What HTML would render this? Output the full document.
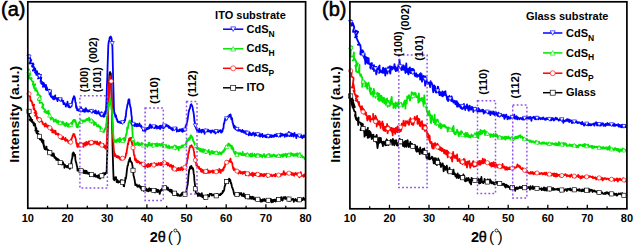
<!DOCTYPE html>
<html><head><meta charset="utf-8"><style>
html,body{margin:0;padding:0;background:#fff;width:634px;height:246px;overflow:hidden}
svg{display:block;font-family:"Liberation Sans",sans-serif}
</style></head><body>
<svg width="634" height="246" viewBox="0 0 634 246">
<path d="M29.9 110.1 L28.7 111.3 L28.5 111.4 L28.9 112.2 L29.1 114.9 L29.2 115.8 L31.0 118.2 L30.4 120.8 L29.5 119.5 L32.3 120.0 L31.9 121.9 L32.7 122.4 L32.8 122.8 L33.6 122.3 L33.4 123.8 L34.9 125.2 L34.5 123.5 L34.8 125.1 L35.2 124.1 L33.8 125.5 L35.4 125.9 L35.6 128.6 L36.4 128.3 L35.3 130.7 L38.4 131.3 L37.3 131.7 L36.5 129.8 L36.4 132.7 L38.0 134.0 L38.6 134.9 L38.4 133.8 L39.4 135.6 L39.1 135.8 L40.5 136.7 L39.8 139.3 L40.7 137.9 L41.9 139.3 L43.7 140.9 L40.9 139.9 L41.8 141.0 L41.8 141.9 L43.5 142.4 L42.3 141.6 L43.2 143.6 L43.9 145.6 L43.5 143.0 L43.9 146.3 L44.6 146.0 L43.7 145.7 L44.6 149.1 L45.7 148.2 L46.5 146.6 L46.6 148.5 L45.8 149.5 L47.1 149.2 L48.3 150.6 L48.5 150.3 L48.4 151.6 L48.2 152.9 L49.5 151.1 L49.1 152.5 L49.1 152.3 L49.7 153.3 L51.4 152.2 L51.0 153.1 L51.9 153.8 L51.3 155.3 L52.5 155.8 L52.0 153.4 L52.6 154.3 L54.3 156.1 L53.7 153.5 L53.5 155.5 L54.0 156.1 L54.6 157.9 L55.3 157.5 L54.9 156.8 L54.7 157.1 L55.7 157.6 L56.2 159.9 L56.5 158.2 L57.4 158.7 L57.3 159.8 L57.9 159.7 L57.5 160.0 L58.6 159.4 L59.3 160.9 L59.2 160.9 L59.4 163.0 L59.7 162.8 L60.5 162.5 L60.1 163.4 L60.7 162.6 L61.2 164.3 L61.6 163.4 L61.6 164.2 L62.2 162.5 L62.4 164.4 L62.8 162.5 L63.1 162.3 L63.3 164.4 L63.8 164.0 L64.4 165.4 L64.4 167.8 L64.9 164.7 L65.3 165.2 L65.5 166.2 L66.0 166.7 L66.2 166.1 L66.8 166.2 L67.2 167.4 L67.5 167.3 L67.7 165.8 L68.1 167.0 L68.4 167.3 L68.8 166.3 L69.1 167.9 L69.4 166.8 L69.8 168.9 L70.2 167.7 L70.5 166.4 L70.9 164.5 L71.2 163.9 L71.6 160.5 L71.9 159.0 L72.3 158.1 L72.6 153.5 L73.0 156.0 L73.3 152.5 L73.7 154.4 L74.0 153.2 L74.4 155.6 L74.7 155.6 L75.1 154.7 L75.4 159.6 L75.8 161.9 L76.1 162.3 L76.5 164.0 L76.8 165.8 L77.2 166.7 L77.5 170.7 L77.9 169.1 L78.2 169.8 L78.6 169.1 L78.9 169.5 L79.3 168.9 L79.6 171.7 L80.0 170.4 L80.3 171.7 L80.7 170.8 L81.0 170.1 L81.4 170.6 L81.7 170.4 L82.1 171.1 L82.4 170.8 L82.8 170.9 L83.1 169.9 L83.5 170.6 L83.8 173.2 L84.2 170.9 L84.5 170.6 L84.9 172.1 L85.2 173.4 L85.6 170.6 L85.9 172.0 L86.3 171.8 L86.6 170.8 L87.0 173.5 L87.3 172.9 L87.7 173.2 L88.0 172.5 L88.4 173.9 L88.7 173.1 L89.1 173.7 L89.4 172.9 L89.8 172.9 L90.1 175.7 L90.5 173.9 L90.8 174.8 L91.2 174.5 L91.5 174.2 L91.9 174.2 L92.2 175.5 L92.6 174.6 L92.9 174.8 L93.3 175.1 L93.6 176.4 L94.0 175.9 L94.3 175.7 L94.7 174.8 L95.0 174.1 L95.4 176.6 L95.7 176.7 L96.1 175.6 L96.4 176.4 L96.8 176.7 L97.1 176.9 L97.5 177.0 L97.8 175.7 L98.2 177.8 L98.5 175.1 L98.9 177.3 L99.2 177.0 L99.6 177.5 L99.9 178.6 L100.3 178.1 L100.6 175.2 L101.0 174.5 L101.3 176.9 L101.7 174.9 L102.0 175.7 L102.4 176.4 L102.7 173.7 L103.1 173.1 L103.4 175.3 L103.8 174.9 L104.1 174.5 L104.5 174.6 L104.8 173.5 L105.2 172.7 L105.5 174.0 L105.9 173.1 L106.2 172.4 L106.6 173.0 L106.9 161.9 L107.3 151.9 L107.6 135.5 L108.0 120.1 L108.3 104.0 L108.7 93.2 L109.0 83.4 L109.4 74.9 L109.7 72.9 L110.1 72.0 L110.4 74.3 L110.8 73.4 L111.1 81.4 L111.5 92.7 L111.8 105.0 L112.2 123.2 L112.5 143.9 L112.9 158.8 L113.2 169.3 L113.6 179.1 L113.9 178.7 L114.3 180.3 L114.6 179.4 L115.0 177.4 L115.3 179.2 L115.7 178.1 L116.0 177.1 L116.4 180.0 L116.7 182.1 L117.1 181.0 L117.4 180.0 L117.8 180.5 L118.1 182.7 L118.5 181.7 L118.8 181.5 L119.2 181.4 L119.5 181.4 L119.9 182.1 L120.2 181.8 L120.6 181.4 L120.9 180.1 L121.3 181.6 L121.6 180.4 L122.0 182.1 L122.3 180.3 L122.7 182.2 L123.0 183.0 L123.4 182.4 L123.7 186.1 L124.1 186.3 L124.4 183.1 L124.8 183.1 L125.1 181.5 L125.5 177.4 L125.8 178.9 L126.2 176.7 L126.5 174.1 L126.9 170.1 L127.2 168.1 L127.6 165.6 L127.9 165.6 L128.3 163.3 L128.6 161.6 L129.0 161.7 L129.3 159.4 L129.7 159.4 L130.0 158.0 L130.4 161.2 L130.7 161.0 L131.1 161.7 L131.4 162.3 L131.8 162.5 L132.1 163.9 L132.5 166.1 L132.8 168.7 L133.2 171.5 L133.5 175.5 L133.9 176.6 L134.2 178.1 L134.6 179.7 L134.9 181.8 L135.3 185.1 L135.6 184.8 L136.0 185.2 L136.3 185.0 L136.7 184.4 L137.0 185.6 L137.4 186.7 L137.7 185.6 L138.1 185.9 L138.4 186.1 L138.8 186.5 L139.1 185.1 L139.5 186.5 L139.8 186.1 L140.2 187.9 L140.5 186.5 L140.9 188.0 L141.2 189.1 L141.6 187.5 L141.9 187.4 L142.3 188.3 L142.6 188.3 L143.0 187.5 L143.3 189.1 L143.7 190.8 L144.0 188.8 L144.4 189.0 L144.7 188.4 L145.1 189.8 L145.4 188.3 L145.8 188.4 L146.1 190.7 L146.5 188.6 L146.8 190.5 L147.2 190.9 L147.5 189.7 L147.9 190.0 L148.2 191.4 L148.6 189.3 L148.9 188.9 L149.3 188.2 L149.6 189.5 L150.0 190.9 L150.3 190.5 L150.7 188.8 L151.0 188.9 L151.4 189.3 L151.7 190.2 L152.1 189.8 L152.4 190.3 L152.8 190.4 L153.1 190.0 L153.5 190.3 L153.8 190.6 L154.2 190.4 L154.5 191.1 L154.9 192.4 L155.2 191.3 L155.6 190.9 L155.9 189.3 L156.3 191.4 L156.6 189.3 L157.0 189.8 L157.3 192.1 L157.7 192.0 L158.0 191.3 L158.4 189.9 L158.7 191.2 L159.1 191.0 L159.4 192.4 L159.8 193.9 L160.1 192.0 L160.5 190.7 L160.8 190.0 L161.2 190.7 L161.5 190.3 L161.9 189.0 L162.2 189.9 L162.6 188.3 L162.9 190.1 L163.3 189.7 L163.6 189.4 L164.0 187.6 L164.3 188.2 L164.7 187.2 L165.0 186.6 L165.4 186.9 L165.7 186.3 L166.1 186.4 L166.4 188.8 L166.8 188.1 L167.1 188.8 L167.5 189.7 L167.8 187.5 L168.2 188.6 L168.5 189.8 L168.9 190.2 L169.2 189.8 L169.6 191.3 L169.9 190.8 L170.3 189.7 L170.6 190.2 L171.0 191.9 L171.3 191.8 L171.7 189.8 L172.0 193.0 L172.4 192.5 L172.7 193.4 L173.1 192.0 L173.4 192.2 L173.8 191.7 L174.1 195.2 L174.5 192.9 L174.8 194.7 L175.2 192.9 L175.5 193.8 L175.9 192.3 L176.2 193.7 L176.6 195.1 L176.9 193.3 L177.3 195.6 L177.6 195.2 L178.0 194.1 L178.3 194.8 L178.7 195.1 L179.0 195.7 L179.4 195.4 L179.7 195.4 L180.1 196.0 L180.4 195.0 L180.8 194.4 L181.1 195.1 L181.5 195.6 L181.8 193.1 L182.2 194.1 L182.5 193.1 L182.9 192.5 L183.2 194.2 L183.6 193.4 L183.9 195.6 L184.3 194.0 L184.6 195.2 L185.0 194.1 L185.3 193.0 L185.7 193.7 L186.0 192.5 L186.4 191.5 L186.7 189.2 L187.1 186.6 L187.4 185.9 L187.8 183.4 L188.1 180.3 L188.5 174.7 L188.8 173.2 L189.2 169.6 L189.5 169.6 L189.9 167.7 L190.2 166.6 L190.6 167.8 L190.9 168.5 L191.3 165.9 L191.6 166.6 L192.0 167.3 L192.3 167.3 L192.7 169.0 L193.0 168.3 L193.4 170.5 L193.7 173.7 L194.1 175.0 L194.4 180.4 L194.8 183.5 L195.1 185.8 L195.5 187.5 L195.8 193.0 L196.2 192.5 L196.5 193.3 L196.9 193.4 L197.2 193.9 L197.6 194.1 L197.9 196.1 L198.3 193.7 L198.6 193.3 L199.0 193.9 L199.3 193.7 L199.7 195.7 L200.0 195.8 L200.4 194.4 L200.7 194.1 L201.1 195.1 L201.4 196.7 L201.8 193.2 L202.1 196.2 L202.5 195.1 L202.8 197.3 L203.2 195.7 L203.5 196.7 L203.9 196.0 L204.2 196.7 L204.6 199.1 L204.9 198.6 L205.3 197.3 L205.6 196.6 L206.0 195.5 L206.3 196.5 L206.7 196.6 L207.0 196.3 L207.4 196.1 L207.7 194.9 L208.1 195.6 L208.4 195.4 L208.8 196.3 L209.1 196.5 L209.5 194.6 L209.8 193.8 L210.2 194.3 L210.5 193.9 L210.9 193.9 L211.2 194.7 L211.6 193.9 L211.9 195.5 L212.3 195.0 L212.6 195.4 L213.0 195.1 L213.3 194.8 L213.7 194.7 L214.0 195.5 L214.4 195.3 L214.7 196.1 L215.1 196.0 L215.4 194.8 L215.8 195.9 L216.1 194.7 L216.5 195.2 L216.8 195.5 L217.2 193.9 L217.5 195.7 L217.9 195.7 L218.2 195.4 L218.6 195.1 L218.9 195.1 L219.3 194.5 L219.6 195.0 L220.0 194.7 L220.3 195.0 L220.7 193.6 L221.0 194.5 L221.4 194.0 L221.7 193.5 L222.1 192.9 L222.4 193.2 L222.8 190.8 L223.1 192.0 L223.5 191.3 L223.8 190.8 L224.2 189.9 L224.5 187.3 L224.9 185.9 L225.2 185.2 L225.6 183.8 L225.9 182.3 L226.3 180.4 L226.6 182.0 L227.0 182.5 L227.3 182.2 L227.7 181.4 L228.0 179.8 L228.4 181.8 L228.7 180.8 L229.1 178.6 L229.4 181.0 L229.8 179.3 L230.1 179.6 L230.5 181.1 L230.8 183.5 L231.2 183.0 L231.5 184.4 L231.9 186.5 L232.2 187.7 L232.6 188.0 L232.9 189.6 L233.3 190.2 L233.6 191.9 L234.0 194.2 L234.3 194.4 L234.7 194.3 L235.0 195.1 L235.4 193.7 L235.7 194.5 L236.1 195.2 L236.4 195.1 L236.8 195.5 L237.1 194.9 L237.5 194.3 L237.8 194.9 L238.2 193.7 L238.5 193.2 L238.9 195.1 L239.2 194.6 L239.6 194.9 L239.9 193.2 L240.3 194.4 L240.6 194.3 L241.0 194.1 L241.3 193.0 L241.7 194.8 L242.0 195.9 L242.4 195.6 L242.7 194.8 L243.1 195.4 L243.4 196.2 L243.8 193.3 L244.1 195.6 L244.5 196.3 L244.8 196.5 L245.2 197.5 L245.5 197.1 L245.9 196.5 L246.2 196.6 L246.6 197.1 L246.9 196.1 L247.3 196.6 L247.6 197.5 L248.0 198.5 L248.3 196.8 L248.7 197.0 L249.0 197.3 L249.4 198.4 L249.7 197.3 L250.1 198.7 L250.4 196.7 L250.8 197.5 L251.1 197.5 L251.5 198.5 L251.8 198.8 L252.2 196.7 L252.5 197.3 L252.9 198.5 L253.2 197.7 L253.6 197.1 L253.9 199.4 L254.3 199.0 L254.6 199.1 L255.0 198.4 L255.3 199.7 L255.7 198.7 L256.0 199.9 L256.4 198.3 L256.7 198.4 L257.1 199.3 L257.4 198.6 L257.8 199.8 L258.1 199.5 L258.5 198.6 L258.8 199.5 L259.2 199.2 L259.5 200.3 L259.9 199.1 L260.2 199.3 L260.6 200.8 L260.9 201.7 L261.3 201.6 L261.6 200.0 L262.0 200.2 L262.3 201.3 L262.7 200.0 L263.0 199.3 L263.4 200.3 L263.7 200.7 L264.1 199.6 L264.4 199.0 L264.8 199.2 L265.1 201.1 L265.5 199.8 L265.8 200.3 L266.2 200.6 L266.5 201.0 L266.9 200.1 L267.2 200.8 L267.6 199.6 L267.9 200.0 L268.3 199.5 L268.6 201.3 L269.0 200.3 L269.3 199.7 L269.7 200.0 L270.0 200.1 L270.4 200.8 L270.7 198.9 L271.1 199.3 L271.4 199.9 L271.8 202.3 L272.1 201.0 L272.5 200.0 L272.8 200.7 L273.2 201.8 L273.5 199.9 L273.9 199.7 L274.2 201.1 L274.6 200.4 L274.9 200.6 L275.3 199.5 L275.6 201.5 L276.0 201.3 L276.3 200.3 L276.7 200.3 L277.0 198.0 L277.4 200.2 L277.7 199.4 L278.1 199.9 L278.4 200.1 L278.8 199.1 L279.1 197.9 L279.5 199.6 L279.8 198.6 L280.2 198.9 L280.5 198.7 L280.9 198.8 L281.2 197.1 L281.6 200.1 L281.9 199.2 L282.3 199.9 L282.6 200.5 L283.0 198.8 L283.3 197.2 L283.7 197.9 L284.0 197.6 L284.4 198.2 L284.7 198.6 L285.1 196.8 L285.4 198.9 L285.8 197.3 L286.1 198.9 L286.5 198.6 L286.8 198.5 L287.2 198.8 L287.5 198.4 L287.9 198.4 L288.2 197.5 L288.6 199.0 L288.9 200.7 L289.3 200.8 L289.6 200.3 L290.0 199.8 L290.3 198.7 L290.7 200.6 L291.0 199.4 L291.4 199.4 L291.7 199.3 L292.1 199.6 L292.4 199.2 L292.8 199.6 L293.1 198.8 L293.5 199.4 L293.8 201.8 L294.2 199.8 L294.5 199.7 L294.9 200.4 L295.2 200.6 L295.6 199.0 L295.9 199.8 L296.3 200.7 L296.6 200.1 L297.0 200.0 L297.3 201.2 L297.7 199.3 L298.0 199.9 L298.4 199.4 L298.7 201.1 L299.1 198.1 L299.4 199.2 L299.8 199.3 L300.1 200.3 L300.5 200.2 L300.8 200.9 L301.2 198.4 L301.5 200.3 L301.9 199.4 L302.2 199.1 L302.6 200.1 L302.9 198.8 L303.3 197.8 L303.6 199.3 L304.0 198.3 L304.3 199.0 L304.7 199.8 L305.0 199.8" fill="none" stroke="#000000" stroke-width="1.80" stroke-linejoin="round"/>
<path d="M29.7 93.7 L29.5 93.0 L28.5 94.7 L29.7 96.4 L29.7 96.5 L30.3 97.0 L30.4 100.8 L31.4 100.6 L30.9 100.4 L32.4 102.7 L32.2 103.3 L32.1 102.9 L32.6 104.9 L32.7 105.6 L34.1 104.6 L33.5 107.6 L34.4 108.5 L34.1 109.2 L33.5 108.8 L36.0 111.3 L34.5 112.6 L36.5 113.7 L36.6 113.1 L35.1 115.8 L36.0 114.5 L36.8 116.3 L36.9 118.7 L36.9 117.2 L39.0 118.0 L38.4 120.2 L39.3 118.9 L39.0 119.4 L40.0 120.4 L39.4 121.7 L40.4 118.4 L41.3 120.3 L41.1 120.5 L41.1 120.7 L40.9 121.3 L42.3 121.7 L42.8 123.3 L42.6 122.3 L42.6 123.8 L44.0 124.4 L45.8 123.5 L44.0 124.7 L44.9 126.5 L45.2 125.2 L43.4 124.3 L45.7 125.1 L45.5 124.3 L47.3 125.8 L46.5 126.6 L46.5 124.9 L47.3 125.7 L47.9 127.4 L47.7 125.7 L48.4 126.6 L47.9 125.6 L49.0 126.2 L50.0 126.9 L51.0 130.2 L50.6 127.7 L50.7 128.0 L51.6 128.3 L51.8 129.0 L52.5 130.2 L52.5 130.1 L52.2 132.4 L52.8 130.8 L53.1 132.4 L53.5 131.5 L53.8 132.2 L53.7 130.3 L53.4 132.1 L54.4 132.5 L54.2 132.6 L55.5 130.8 L55.8 134.3 L55.5 133.2 L56.8 133.4 L57.2 133.9 L57.2 134.2 L58.2 135.1 L58.6 133.6 L57.8 134.2 L59.0 135.8 L59.1 135.9 L59.4 135.6 L59.9 135.6 L59.8 135.6 L60.2 136.7 L60.5 138.3 L60.8 136.1 L61.4 139.1 L61.4 138.6 L61.9 137.5 L62.6 139.1 L62.8 136.9 L63.2 136.9 L63.1 137.6 L63.7 138.8 L64.1 139.1 L64.6 139.1 L64.8 140.0 L65.4 137.9 L65.6 140.9 L66.0 139.1 L66.3 140.1 L66.7 140.6 L67.0 140.0 L67.4 140.0 L67.7 140.6 L68.1 141.8 L68.4 142.7 L68.8 142.8 L69.1 141.4 L69.5 141.8 L69.8 141.9 L70.2 143.3 L70.5 140.2 L70.9 143.2 L71.2 140.3 L71.6 138.5 L71.9 138.1 L72.3 137.3 L72.6 135.7 L73.0 135.6 L73.3 133.9 L73.7 134.2 L74.0 134.8 L74.4 134.3 L74.7 136.8 L75.1 136.4 L75.4 138.1 L75.8 138.8 L76.1 141.2 L76.5 143.8 L76.8 142.9 L77.2 146.3 L77.5 146.9 L77.9 146.7 L78.2 144.0 L78.6 146.0 L78.9 146.6 L79.3 145.0 L79.6 145.8 L80.0 143.0 L80.3 146.1 L80.7 144.6 L81.0 146.1 L81.4 143.2 L81.7 145.7 L82.1 144.6 L82.4 145.6 L82.8 143.7 L83.1 143.9 L83.5 146.8 L83.8 143.5 L84.2 143.5 L84.5 143.9 L84.9 143.0 L85.2 145.2 L85.6 145.6 L85.9 143.0 L86.3 141.8 L86.6 144.7 L87.0 144.6 L87.3 144.2 L87.7 144.4 L88.0 142.2 L88.4 142.8 L88.7 141.5 L89.1 141.3 L89.4 143.7 L89.8 141.9 L90.1 144.8 L90.5 142.6 L90.8 141.8 L91.2 143.3 L91.5 144.3 L91.9 143.0 L92.2 141.2 L92.6 142.8 L92.9 143.9 L93.3 141.9 L93.6 141.6 L94.0 143.5 L94.3 142.6 L94.7 141.3 L95.0 142.0 L95.4 141.7 L95.7 142.9 L96.1 142.8 L96.4 144.0 L96.8 143.7 L97.1 141.5 L97.5 143.6 L97.8 144.2 L98.2 143.9 L98.5 144.6 L98.9 143.1 L99.2 142.8 L99.6 144.8 L99.9 142.9 L100.3 142.0 L100.6 145.4 L101.0 143.9 L101.3 144.5 L101.7 143.7 L102.0 144.0 L102.4 144.4 L102.7 145.4 L103.1 146.4 L103.4 143.9 L103.8 147.2 L104.1 145.5 L104.5 145.9 L104.8 147.9 L105.2 147.2 L105.5 145.6 L105.9 149.0 L106.2 146.2 L106.6 146.2 L106.9 138.7 L107.3 132.5 L107.6 122.0 L108.0 114.8 L108.3 104.3 L108.7 97.2 L109.0 86.3 L109.4 80.1 L109.7 78.9 L110.1 76.0 L110.4 76.7 L110.8 81.7 L111.1 85.2 L111.5 94.1 L111.8 105.7 L112.2 114.8 L112.5 128.0 L112.9 135.9 L113.2 140.8 L113.6 146.9 L113.9 151.2 L114.3 153.0 L114.6 153.4 L115.0 156.4 L115.3 154.1 L115.7 155.9 L116.0 156.1 L116.4 156.4 L116.7 157.1 L117.1 155.8 L117.4 157.7 L117.8 157.1 L118.1 156.8 L118.5 156.3 L118.8 156.7 L119.2 158.3 L119.5 157.2 L119.9 158.4 L120.2 159.4 L120.6 159.4 L120.9 159.9 L121.3 158.0 L121.6 157.2 L122.0 159.3 L122.3 158.5 L122.7 159.3 L123.0 158.2 L123.4 159.3 L123.7 158.9 L124.1 158.8 L124.4 158.5 L124.8 158.4 L125.1 157.8 L125.5 156.4 L125.8 155.8 L126.2 152.9 L126.5 153.7 L126.9 149.8 L127.2 148.8 L127.6 145.6 L127.9 143.4 L128.3 144.2 L128.6 140.9 L129.0 138.9 L129.3 138.4 L129.7 138.2 L130.0 140.6 L130.4 138.7 L130.7 139.4 L131.1 137.7 L131.4 140.3 L131.8 141.9 L132.1 144.3 L132.5 143.1 L132.8 146.8 L133.2 149.1 L133.5 150.3 L133.9 153.9 L134.2 155.7 L134.6 155.3 L134.9 159.7 L135.3 160.3 L135.6 159.5 L136.0 158.9 L136.3 161.8 L136.7 160.8 L137.0 161.8 L137.4 162.4 L137.7 160.7 L138.1 162.2 L138.4 161.4 L138.8 161.8 L139.1 162.0 L139.5 162.3 L139.8 163.6 L140.2 162.8 L140.5 162.7 L140.9 162.7 L141.2 163.5 L141.6 162.5 L141.9 163.0 L142.3 163.6 L142.6 163.3 L143.0 163.9 L143.3 163.6 L143.7 166.3 L144.0 165.8 L144.4 165.1 L144.7 164.8 L145.1 167.1 L145.4 165.3 L145.8 164.9 L146.1 165.3 L146.5 165.3 L146.8 166.3 L147.2 165.0 L147.5 167.0 L147.9 164.2 L148.2 165.7 L148.6 164.0 L148.9 166.7 L149.3 164.7 L149.6 164.9 L150.0 165.9 L150.3 166.2 L150.7 163.9 L151.0 164.7 L151.4 163.7 L151.7 165.1 L152.1 164.9 L152.4 164.7 L152.8 164.4 L153.1 164.6 L153.5 164.3 L153.8 165.5 L154.2 166.4 L154.5 163.2 L154.9 164.9 L155.2 164.6 L155.6 165.4 L155.9 163.9 L156.3 164.6 L156.6 163.7 L157.0 165.3 L157.3 164.6 L157.7 164.3 L158.0 164.7 L158.4 164.1 L158.7 162.8 L159.1 164.7 L159.4 164.4 L159.8 163.9 L160.1 164.9 L160.5 165.0 L160.8 162.8 L161.2 163.0 L161.5 165.0 L161.9 164.8 L162.2 162.7 L162.6 162.2 L162.9 162.6 L163.3 162.6 L163.6 161.5 L164.0 162.9 L164.3 161.6 L164.7 161.6 L165.0 163.4 L165.4 162.1 L165.7 162.9 L166.1 163.7 L166.4 164.0 L166.8 163.1 L167.1 163.6 L167.5 163.0 L167.8 165.6 L168.2 164.7 L168.5 163.3 L168.9 164.5 L169.2 165.3 L169.6 165.2 L169.9 166.6 L170.3 166.5 L170.6 165.0 L171.0 165.7 L171.3 165.0 L171.7 166.7 L172.0 166.9 L172.4 169.5 L172.7 167.4 L173.1 165.7 L173.4 167.3 L173.8 168.4 L174.1 167.4 L174.5 168.1 L174.8 168.8 L175.2 169.8 L175.5 169.6 L175.9 169.3 L176.2 170.9 L176.6 169.5 L176.9 169.5 L177.3 168.6 L177.6 169.0 L178.0 170.2 L178.3 168.0 L178.7 169.3 L179.0 170.0 L179.4 168.9 L179.7 169.3 L180.1 168.0 L180.4 170.1 L180.8 169.8 L181.1 169.0 L181.5 167.1 L181.8 167.7 L182.2 169.5 L182.5 170.0 L182.9 168.7 L183.2 169.4 L183.6 167.5 L183.9 167.7 L184.3 167.7 L184.6 167.8 L185.0 165.9 L185.3 167.9 L185.7 168.0 L186.0 165.6 L186.4 163.8 L186.7 163.8 L187.1 161.4 L187.4 158.3 L187.8 158.7 L188.1 155.3 L188.5 152.0 L188.8 152.9 L189.2 150.0 L189.5 148.0 L189.9 147.6 L190.2 145.9 L190.6 145.9 L190.9 146.6 L191.3 145.5 L191.6 145.3 L192.0 146.9 L192.3 146.7 L192.7 147.2 L193.0 147.6 L193.4 148.2 L193.7 150.7 L194.1 151.8 L194.4 155.9 L194.8 155.6 L195.1 158.2 L195.5 159.2 L195.8 162.1 L196.2 164.2 L196.5 165.7 L196.9 164.5 L197.2 165.7 L197.6 166.1 L197.9 166.4 L198.3 166.5 L198.6 168.0 L199.0 166.8 L199.3 168.9 L199.7 169.2 L200.0 169.0 L200.4 168.9 L200.7 168.7 L201.1 171.7 L201.4 169.1 L201.8 171.8 L202.1 171.1 L202.5 170.4 L202.8 169.9 L203.2 172.0 L203.5 172.8 L203.9 170.6 L204.2 171.2 L204.6 172.4 L204.9 171.7 L205.3 173.2 L205.6 170.9 L206.0 171.9 L206.3 170.3 L206.7 173.2 L207.0 170.7 L207.4 169.4 L207.7 171.2 L208.1 171.2 L208.4 172.9 L208.8 171.0 L209.1 171.2 L209.5 171.7 L209.8 172.6 L210.2 171.2 L210.5 172.2 L210.9 171.8 L211.2 171.1 L211.6 171.5 L211.9 171.5 L212.3 170.8 L212.6 172.7 L213.0 170.5 L213.3 172.7 L213.7 172.6 L214.0 171.8 L214.4 171.2 L214.7 171.8 L215.1 172.4 L215.4 172.6 L215.8 172.1 L216.1 172.6 L216.5 171.2 L216.8 171.8 L217.2 170.2 L217.5 172.2 L217.9 171.6 L218.2 171.0 L218.6 172.3 L218.9 171.8 L219.3 168.8 L219.6 171.1 L220.0 169.8 L220.3 171.8 L220.7 172.8 L221.0 170.1 L221.4 170.4 L221.7 170.0 L222.1 170.3 L222.4 170.4 L222.8 170.8 L223.1 168.6 L223.5 170.0 L223.8 167.1 L224.2 167.4 L224.5 167.4 L224.9 166.3 L225.2 164.0 L225.6 163.2 L225.9 162.4 L226.3 162.4 L226.6 163.2 L227.0 161.0 L227.3 162.4 L227.7 162.4 L228.0 162.2 L228.4 161.7 L228.7 162.2 L229.1 160.9 L229.4 160.7 L229.8 160.1 L230.1 161.0 L230.5 158.6 L230.8 162.1 L231.2 161.5 L231.5 162.2 L231.9 162.4 L232.2 162.9 L232.6 165.9 L232.9 167.3 L233.3 169.0 L233.6 167.6 L234.0 170.3 L234.3 169.5 L234.7 169.3 L235.0 169.2 L235.4 169.4 L235.7 169.3 L236.1 170.1 L236.4 170.8 L236.8 170.8 L237.1 170.0 L237.5 171.1 L237.8 170.8 L238.2 171.9 L238.5 173.5 L238.9 172.6 L239.2 172.0 L239.6 171.1 L239.9 171.4 L240.3 171.3 L240.6 173.3 L241.0 172.0 L241.3 172.8 L241.7 172.2 L242.0 172.8 L242.4 173.9 L242.7 172.1 L243.1 172.4 L243.4 172.0 L243.8 173.4 L244.1 171.9 L244.5 171.9 L244.8 171.7 L245.2 171.8 L245.5 173.5 L245.9 175.4 L246.2 172.5 L246.6 174.2 L246.9 173.7 L247.3 172.7 L247.6 173.5 L248.0 173.6 L248.3 173.3 L248.7 175.7 L249.0 172.5 L249.4 174.5 L249.7 174.6 L250.1 173.9 L250.4 174.5 L250.8 175.1 L251.1 174.5 L251.5 174.8 L251.8 175.0 L252.2 172.7 L252.5 175.7 L252.9 176.3 L253.2 175.2 L253.6 175.3 L253.9 173.2 L254.3 174.3 L254.6 173.7 L255.0 173.9 L255.3 175.2 L255.7 173.7 L256.0 174.3 L256.4 172.8 L256.7 174.3 L257.1 174.5 L257.4 173.8 L257.8 173.8 L258.1 176.0 L258.5 173.4 L258.8 173.5 L259.2 173.7 L259.5 175.4 L259.9 176.2 L260.2 174.7 L260.6 173.9 L260.9 174.1 L261.3 175.5 L261.6 173.8 L262.0 175.9 L262.3 175.9 L262.7 174.8 L263.0 175.3 L263.4 175.4 L263.7 176.2 L264.1 174.0 L264.4 175.9 L264.8 174.7 L265.1 174.4 L265.5 175.1 L265.8 174.9 L266.2 174.3 L266.5 173.8 L266.9 174.4 L267.2 176.5 L267.6 177.0 L267.9 175.9 L268.3 176.4 L268.6 175.0 L269.0 175.4 L269.3 175.8 L269.7 174.6 L270.0 174.8 L270.4 175.7 L270.7 175.3 L271.1 174.6 L271.4 175.8 L271.8 175.3 L272.1 176.3 L272.5 175.4 L272.8 175.2 L273.2 175.5 L273.5 175.2 L273.9 174.8 L274.2 175.0 L274.6 176.0 L274.9 175.9 L275.3 176.4 L275.6 173.8 L276.0 174.9 L276.3 174.9 L276.7 175.3 L277.0 174.8 L277.4 174.7 L277.7 175.8 L278.1 175.3 L278.4 174.1 L278.8 176.2 L279.1 175.9 L279.5 174.5 L279.8 175.7 L280.2 174.3 L280.5 175.9 L280.9 174.6 L281.2 174.1 L281.6 174.4 L281.9 174.0 L282.3 174.7 L282.6 174.6 L283.0 174.4 L283.3 173.9 L283.7 171.2 L284.0 174.3 L284.4 172.5 L284.7 174.3 L285.1 175.0 L285.4 174.2 L285.8 173.5 L286.1 173.6 L286.5 173.6 L286.8 173.2 L287.2 173.1 L287.5 172.7 L287.9 174.4 L288.2 173.3 L288.6 174.1 L288.9 173.0 L289.3 173.2 L289.6 172.9 L290.0 173.4 L290.3 173.8 L290.7 173.3 L291.0 172.6 L291.4 172.6 L291.7 174.8 L292.1 173.2 L292.4 173.2 L292.8 174.8 L293.1 174.5 L293.5 174.1 L293.8 173.4 L294.2 175.8 L294.5 174.2 L294.9 174.4 L295.2 173.9 L295.6 172.9 L295.9 173.0 L296.3 174.6 L296.6 174.7 L297.0 174.2 L297.3 173.5 L297.7 173.3 L298.0 174.3 L298.4 173.4 L298.7 175.5 L299.1 175.8 L299.4 177.3 L299.8 175.7 L300.1 174.5 L300.5 174.3 L300.8 172.2 L301.2 174.6 L301.5 175.0 L301.9 176.0 L302.2 175.8 L302.6 175.8 L302.9 175.5 L303.3 176.0 L303.6 176.7 L304.0 174.6 L304.3 175.1 L304.7 174.4 L305.0 177.0" fill="none" stroke="#ff0000" stroke-width="1.80" stroke-linejoin="round"/>
<path d="M28.5 68.6 L28.5 69.2 L29.8 72.5 L30.2 74.9 L29.1 75.0 L28.5 78.8 L29.6 77.2 L31.8 78.2 L30.3 79.0 L31.2 79.3 L32.2 81.5 L33.5 81.8 L32.7 84.4 L33.0 84.0 L32.9 84.7 L35.2 84.7 L35.1 84.1 L34.4 86.2 L33.5 86.0 L34.4 88.6 L36.0 88.1 L35.2 90.6 L37.0 90.3 L36.9 91.3 L37.2 91.5 L37.8 92.4 L38.0 93.7 L37.2 94.9 L38.0 94.1 L40.8 96.5 L37.9 99.9 L38.9 98.0 L40.7 98.8 L39.9 99.3 L39.7 99.3 L39.6 103.0 L41.6 102.5 L42.3 103.5 L43.0 106.0 L42.2 107.5 L43.4 104.5 L42.0 107.4 L43.3 107.7 L43.0 108.2 L44.0 109.1 L44.8 109.3 L45.4 111.9 L44.2 111.6 L46.2 111.4 L45.3 112.5 L45.3 112.2 L46.2 111.8 L45.7 111.7 L47.1 113.4 L47.6 112.1 L47.6 111.5 L48.5 110.8 L48.2 111.4 L48.8 111.2 L48.2 113.5 L49.5 114.7 L49.3 113.2 L49.9 116.2 L50.5 117.4 L51.0 117.3 L50.3 116.6 L50.7 119.5 L51.8 117.9 L52.6 117.8 L52.8 118.4 L53.5 120.1 L54.0 121.3 L53.9 121.7 L54.0 120.8 L53.9 119.5 L54.3 120.2 L54.9 120.1 L55.6 121.1 L55.9 119.5 L56.2 121.7 L56.4 122.3 L57.1 121.6 L57.3 122.3 L57.7 120.9 L58.0 120.4 L58.1 121.4 L58.2 123.4 L59.1 123.3 L59.4 121.8 L59.6 123.7 L59.9 122.2 L61.0 124.2 L60.5 123.3 L61.0 122.4 L61.5 123.9 L61.5 122.3 L62.1 122.3 L62.9 121.8 L63.0 123.8 L63.3 123.6 L63.6 123.7 L63.9 123.4 L64.4 125.5 L64.5 123.7 L64.8 123.5 L65.3 125.7 L65.7 126.0 L66.0 124.9 L66.4 122.8 L66.4 124.1 L67.1 125.4 L67.5 124.9 L67.8 126.6 L68.0 123.6 L68.4 125.8 L68.8 124.5 L69.1 126.7 L69.5 125.3 L69.8 126.5 L70.2 124.6 L70.5 123.4 L70.9 123.3 L71.2 123.4 L71.6 122.5 L71.9 124.4 L72.3 124.1 L72.6 122.4 L73.0 120.5 L73.3 121.0 L73.7 119.9 L74.0 121.7 L74.4 119.9 L74.7 120.6 L75.1 120.8 L75.4 120.2 L75.8 122.6 L76.1 123.4 L76.5 126.1 L76.8 127.0 L77.2 126.4 L77.5 126.1 L77.9 127.5 L78.2 124.2 L78.6 123.5 L78.9 123.6 L79.3 122.4 L79.6 122.0 L80.0 122.4 L80.3 123.4 L80.7 119.7 L81.0 121.4 L81.4 121.4 L81.7 121.2 L82.1 121.0 L82.4 120.8 L82.8 122.1 L83.1 120.5 L83.5 120.7 L83.8 120.8 L84.2 120.8 L84.5 120.4 L84.9 121.6 L85.2 120.4 L85.6 120.5 L85.9 120.2 L86.3 119.2 L86.6 119.3 L87.0 118.9 L87.3 120.1 L87.7 119.1 L88.0 118.7 L88.4 119.9 L88.7 120.2 L89.1 117.7 L89.4 121.2 L89.8 119.4 L90.1 119.3 L90.5 120.8 L90.8 120.0 L91.2 119.6 L91.5 122.8 L91.9 119.7 L92.2 121.0 L92.6 122.3 L92.9 120.6 L93.3 121.9 L93.6 122.7 L94.0 125.1 L94.3 122.0 L94.7 123.2 L95.0 124.2 L95.4 123.8 L95.7 122.8 L96.1 124.7 L96.4 124.7 L96.8 125.3 L97.1 126.3 L97.5 126.4 L97.8 126.0 L98.2 126.2 L98.5 125.0 L98.9 126.3 L99.2 126.9 L99.6 126.6 L99.9 127.3 L100.3 126.8 L100.6 129.6 L101.0 130.6 L101.3 128.5 L101.7 129.7 L102.0 129.5 L102.4 131.5 L102.7 131.0 L103.1 131.1 L103.4 131.2 L103.8 132.0 L104.1 130.9 L104.5 131.5 L104.8 129.0 L105.2 129.2 L105.5 127.7 L105.9 127.6 L106.2 124.2 L106.6 122.1 L106.9 117.0 L107.3 115.4 L107.6 111.4 L108.0 108.6 L108.3 107.2 L108.7 107.0 L109.0 103.0 L109.4 104.4 L109.7 101.5 L110.1 103.2 L110.4 99.0 L110.8 100.6 L111.1 102.9 L111.5 109.1 L111.8 109.1 L112.2 115.1 L112.5 121.5 L112.9 127.2 L113.2 133.5 L113.6 137.6 L113.9 139.9 L114.3 141.9 L114.6 140.5 L115.0 140.8 L115.3 140.3 L115.7 140.9 L116.0 142.4 L116.4 140.8 L116.7 140.5 L117.1 139.6 L117.4 139.4 L117.8 141.5 L118.1 138.9 L118.5 139.2 L118.8 140.0 L119.2 139.8 L119.5 142.2 L119.9 137.9 L120.2 140.7 L120.6 141.1 L120.9 139.3 L121.3 139.9 L121.6 141.0 L122.0 142.2 L122.3 139.6 L122.7 138.9 L123.0 141.4 L123.4 141.8 L123.7 139.9 L124.1 138.0 L124.4 141.5 L124.8 139.9 L125.1 140.6 L125.5 137.8 L125.8 135.7 L126.2 133.9 L126.5 134.1 L126.9 132.3 L127.2 127.4 L127.6 127.2 L127.9 128.5 L128.3 125.1 L128.6 122.8 L129.0 122.9 L129.3 121.4 L129.7 120.4 L130.0 120.7 L130.4 121.6 L130.7 122.2 L131.1 123.7 L131.4 123.3 L131.8 124.5 L132.1 126.5 L132.5 132.6 L132.8 136.4 L133.2 139.0 L133.5 140.4 L133.9 141.2 L134.2 142.7 L134.6 143.0 L134.9 145.1 L135.3 144.9 L135.6 143.7 L136.0 143.4 L136.3 144.7 L136.7 144.4 L137.0 143.9 L137.4 142.6 L137.7 142.3 L138.1 144.5 L138.4 145.0 L138.8 145.0 L139.1 143.1 L139.5 145.4 L139.8 144.0 L140.2 144.9 L140.5 145.0 L140.9 143.9 L141.2 144.2 L141.6 142.8 L141.9 144.0 L142.3 143.2 L142.6 145.4 L143.0 145.1 L143.3 146.0 L143.7 145.6 L144.0 144.7 L144.4 145.7 L144.7 145.1 L145.1 146.1 L145.4 145.8 L145.8 144.5 L146.1 145.4 L146.5 145.4 L146.8 145.0 L147.2 146.1 L147.5 146.9 L147.9 144.9 L148.2 144.8 L148.6 143.0 L148.9 145.0 L149.3 144.7 L149.6 143.0 L150.0 145.3 L150.3 145.6 L150.7 144.3 L151.0 144.6 L151.4 144.1 L151.7 145.7 L152.1 143.6 L152.4 144.7 L152.8 146.8 L153.1 145.0 L153.5 145.4 L153.8 144.9 L154.2 143.9 L154.5 145.0 L154.9 145.4 L155.2 144.0 L155.6 145.3 L155.9 146.2 L156.3 146.0 L156.6 143.5 L157.0 144.1 L157.3 143.5 L157.7 146.0 L158.0 145.6 L158.4 145.7 L158.7 144.2 L159.1 143.9 L159.4 145.1 L159.8 145.1 L160.1 144.2 L160.5 145.2 L160.8 145.8 L161.2 145.4 L161.5 144.3 L161.9 143.4 L162.2 145.2 L162.6 145.7 L162.9 145.3 L163.3 145.3 L163.6 145.1 L164.0 146.5 L164.3 145.8 L164.7 146.0 L165.0 145.1 L165.4 145.5 L165.7 146.3 L166.1 145.3 L166.4 145.1 L166.8 146.0 L167.1 147.5 L167.5 146.7 L167.8 147.9 L168.2 146.5 L168.5 146.4 L168.9 145.5 L169.2 146.3 L169.6 148.2 L169.9 147.3 L170.3 147.7 L170.6 147.7 L171.0 147.0 L171.3 146.9 L171.7 147.2 L172.0 147.7 L172.4 147.5 L172.7 147.6 L173.1 147.3 L173.4 146.4 L173.8 146.9 L174.1 146.3 L174.5 148.1 L174.8 145.3 L175.2 147.0 L175.5 149.4 L175.9 146.9 L176.2 146.2 L176.6 147.2 L176.9 148.4 L177.3 147.1 L177.6 147.9 L178.0 147.4 L178.3 147.0 L178.7 150.2 L179.0 147.4 L179.4 146.9 L179.7 146.9 L180.1 147.7 L180.4 147.7 L180.8 147.9 L181.1 147.2 L181.5 145.7 L181.8 147.4 L182.2 146.5 L182.5 146.4 L182.9 145.3 L183.2 146.0 L183.6 145.8 L183.9 146.3 L184.3 144.9 L184.6 146.2 L185.0 146.1 L185.3 144.4 L185.7 144.1 L186.0 143.2 L186.4 144.1 L186.7 140.3 L187.1 141.6 L187.4 139.7 L187.8 140.1 L188.1 140.6 L188.5 138.9 L188.8 139.1 L189.2 137.8 L189.5 139.8 L189.9 138.4 L190.2 138.2 L190.6 135.5 L190.9 135.3 L191.3 136.8 L191.6 136.0 L192.0 136.9 L192.3 138.4 L192.7 137.9 L193.0 140.7 L193.4 140.9 L193.7 142.1 L194.1 141.9 L194.4 143.8 L194.8 143.6 L195.1 145.8 L195.5 146.6 L195.8 147.0 L196.2 147.3 L196.5 148.1 L196.9 145.7 L197.2 149.2 L197.6 148.4 L197.9 148.8 L198.3 148.7 L198.6 147.8 L199.0 148.7 L199.3 149.9 L199.7 150.7 L200.0 149.1 L200.4 148.9 L200.7 151.1 L201.1 149.1 L201.4 151.8 L201.8 150.1 L202.1 149.4 L202.5 151.1 L202.8 151.9 L203.2 149.2 L203.5 151.9 L203.9 150.4 L204.2 152.1 L204.6 150.5 L204.9 149.6 L205.3 151.5 L205.6 152.0 L206.0 153.1 L206.3 152.9 L206.7 152.1 L207.0 151.4 L207.4 151.3 L207.7 151.6 L208.1 151.2 L208.4 151.8 L208.8 149.9 L209.1 152.4 L209.5 152.3 L209.8 154.7 L210.2 153.2 L210.5 152.1 L210.9 153.0 L211.2 151.4 L211.6 152.0 L211.9 150.9 L212.3 153.7 L212.6 153.0 L213.0 151.5 L213.3 152.4 L213.7 153.3 L214.0 152.9 L214.4 152.8 L214.7 151.8 L215.1 152.0 L215.4 152.6 L215.8 153.3 L216.1 151.8 L216.5 151.6 L216.8 153.6 L217.2 151.8 L217.5 153.6 L217.9 152.9 L218.2 153.5 L218.6 154.3 L218.9 153.4 L219.3 153.6 L219.6 152.2 L220.0 152.4 L220.3 153.4 L220.7 154.0 L221.0 153.7 L221.4 154.3 L221.7 152.4 L222.1 152.1 L222.4 152.7 L222.8 151.6 L223.1 151.4 L223.5 150.4 L223.8 151.9 L224.2 149.8 L224.5 150.5 L224.9 148.2 L225.2 149.7 L225.6 147.2 L225.9 148.1 L226.3 145.6 L226.6 146.3 L227.0 147.4 L227.3 145.5 L227.7 145.9 L228.0 145.2 L228.4 143.4 L228.7 145.3 L229.1 145.2 L229.4 144.2 L229.8 145.9 L230.1 145.0 L230.5 145.1 L230.8 146.2 L231.2 145.9 L231.5 148.7 L231.9 145.8 L232.2 148.3 L232.6 149.4 L232.9 147.7 L233.3 148.7 L233.6 151.5 L234.0 151.5 L234.3 152.7 L234.7 153.8 L235.0 152.9 L235.4 152.8 L235.7 151.8 L236.1 154.7 L236.4 153.7 L236.8 154.7 L237.1 154.6 L237.5 153.1 L237.8 155.7 L238.2 155.2 L238.5 154.9 L238.9 153.1 L239.2 153.8 L239.6 153.6 L239.9 153.7 L240.3 153.1 L240.6 154.4 L241.0 154.3 L241.3 154.5 L241.7 153.8 L242.0 155.3 L242.4 154.5 L242.7 152.0 L243.1 153.8 L243.4 154.4 L243.8 155.3 L244.1 154.3 L244.5 154.3 L244.8 154.0 L245.2 155.2 L245.5 154.2 L245.9 154.1 L246.2 154.1 L246.6 155.2 L246.9 154.3 L247.3 153.3 L247.6 155.3 L248.0 154.2 L248.3 155.2 L248.7 155.2 L249.0 155.9 L249.4 155.8 L249.7 154.5 L250.1 154.9 L250.4 153.9 L250.8 156.5 L251.1 155.4 L251.5 156.3 L251.8 154.8 L252.2 153.4 L252.5 156.4 L252.9 155.2 L253.2 155.3 L253.6 155.2 L253.9 155.7 L254.3 155.7 L254.6 153.9 L255.0 156.2 L255.3 154.8 L255.7 154.9 L256.0 156.8 L256.4 156.1 L256.7 155.0 L257.1 153.8 L257.4 155.5 L257.8 155.8 L258.1 155.3 L258.5 154.4 L258.8 154.8 L259.2 154.4 L259.5 155.7 L259.9 156.2 L260.2 156.4 L260.6 154.9 L260.9 155.7 L261.3 156.0 L261.6 155.1 L262.0 155.4 L262.3 157.3 L262.7 155.7 L263.0 156.3 L263.4 155.1 L263.7 155.5 L264.1 154.0 L264.4 155.5 L264.8 156.5 L265.1 157.3 L265.5 156.5 L265.8 156.1 L266.2 155.5 L266.5 155.0 L266.9 155.4 L267.2 156.0 L267.6 154.8 L267.9 156.3 L268.3 154.7 L268.6 154.0 L269.0 154.6 L269.3 154.1 L269.7 154.3 L270.0 156.5 L270.4 155.3 L270.7 155.7 L271.1 156.5 L271.4 156.6 L271.8 155.1 L272.1 156.6 L272.5 155.8 L272.8 155.5 L273.2 155.9 L273.5 154.3 L273.9 154.8 L274.2 155.4 L274.6 156.0 L274.9 155.2 L275.3 155.4 L275.6 156.3 L276.0 156.7 L276.3 156.2 L276.7 156.6 L277.0 155.2 L277.4 155.2 L277.7 155.8 L278.1 155.2 L278.4 155.1 L278.8 156.9 L279.1 155.3 L279.5 154.7 L279.8 155.9 L280.2 157.0 L280.5 155.5 L280.9 156.5 L281.2 155.0 L281.6 154.9 L281.9 154.7 L282.3 155.2 L282.6 156.8 L283.0 154.2 L283.3 156.6 L283.7 154.3 L284.0 154.9 L284.4 155.8 L284.7 155.6 L285.1 155.2 L285.4 153.6 L285.8 155.2 L286.1 154.0 L286.5 157.0 L286.8 154.6 L287.2 154.9 L287.5 153.8 L287.9 154.3 L288.2 153.6 L288.6 155.5 L288.9 154.4 L289.3 155.1 L289.6 154.0 L290.0 154.1 L290.3 155.6 L290.7 153.7 L291.0 153.0 L291.4 154.9 L291.7 153.6 L292.1 154.2 L292.4 155.4 L292.8 153.9 L293.1 155.4 L293.5 154.1 L293.8 156.0 L294.2 155.8 L294.5 154.3 L294.9 154.6 L295.2 154.1 L295.6 154.9 L295.9 155.8 L296.3 153.6 L296.6 155.6 L297.0 153.7 L297.3 154.1 L297.7 153.4 L298.0 156.7 L298.4 155.0 L298.7 155.1 L299.1 154.4 L299.4 155.9 L299.8 153.2 L300.1 155.1 L300.5 157.1 L300.8 155.2 L301.2 155.7 L301.5 156.5 L301.9 155.4 L302.2 156.3 L302.6 157.3 L302.9 156.9 L303.3 157.3 L303.6 156.9 L304.0 157.6 L304.3 157.6 L304.7 159.0 L305.0 158.6" fill="none" stroke="#00e600" stroke-width="1.80" stroke-linejoin="round"/>
<path d="M28.5 54.3 L29.1 56.2 L28.7 57.7 L30.0 57.7 L30.6 59.5 L30.2 62.4 L31.3 60.1 L29.4 63.5 L30.6 63.2 L33.0 63.3 L33.6 64.5 L32.6 65.3 L32.6 66.9 L31.9 65.9 L33.7 66.9 L34.5 67.6 L32.8 70.7 L35.0 70.2 L35.2 68.7 L35.5 70.0 L34.5 70.1 L36.3 71.5 L34.9 72.3 L37.9 75.2 L37.0 71.2 L36.2 74.8 L38.8 74.6 L39.0 73.7 L37.7 74.8 L40.6 74.8 L38.1 75.8 L39.6 77.3 L40.8 74.9 L38.0 78.5 L41.3 77.5 L40.7 80.5 L41.1 80.2 L40.5 81.9 L42.1 82.1 L41.2 83.4 L41.7 82.7 L42.5 82.2 L42.2 84.3 L44.8 84.8 L42.9 86.8 L43.7 82.8 L44.4 85.2 L45.0 87.1 L45.9 84.9 L46.2 86.5 L45.8 89.5 L46.1 89.1 L46.7 87.0 L47.6 90.0 L47.9 90.1 L47.4 90.1 L46.7 90.1 L49.8 90.4 L49.4 89.6 L49.3 90.4 L49.7 92.2 L49.5 91.9 L49.6 94.5 L50.4 93.0 L50.8 91.6 L50.9 94.7 L50.8 96.3 L51.8 97.3 L52.6 97.1 L52.4 96.3 L53.0 98.9 L52.3 96.7 L53.6 98.3 L54.0 97.3 L53.8 96.5 L54.0 99.4 L55.3 95.3 L55.1 97.2 L56.0 98.7 L56.0 97.9 L56.8 99.2 L56.7 98.4 L56.6 98.1 L57.5 101.1 L57.8 98.6 L58.5 98.8 L58.4 97.9 L58.8 98.4 L59.6 100.0 L60.0 100.0 L60.2 99.5 L60.7 99.0 L60.8 100.7 L61.3 98.5 L61.6 100.2 L61.8 100.5 L62.1 100.2 L62.5 101.5 L63.3 100.9 L63.2 101.0 L63.5 104.1 L63.8 103.2 L64.2 104.0 L64.6 103.0 L64.7 104.2 L65.0 104.3 L65.6 105.1 L65.8 106.7 L66.3 104.2 L66.7 105.0 L67.1 105.0 L67.5 101.7 L67.7 104.2 L68.0 106.0 L68.3 106.7 L68.7 105.4 L69.1 107.2 L69.4 107.4 L69.8 105.6 L70.2 107.4 L70.5 107.4 L70.9 105.7 L71.2 103.8 L71.6 106.1 L71.9 103.1 L72.3 101.5 L72.6 100.6 L73.0 98.5 L73.3 98.8 L73.7 97.0 L74.0 96.1 L74.4 97.1 L74.7 97.3 L75.1 99.6 L75.4 102.3 L75.8 102.7 L76.1 107.8 L76.5 106.1 L76.8 107.4 L77.2 110.3 L77.5 110.0 L77.9 109.4 L78.2 109.4 L78.6 110.2 L78.9 110.8 L79.3 110.9 L79.6 110.0 L80.0 110.9 L80.3 111.4 L80.7 111.2 L81.0 107.2 L81.4 109.4 L81.7 109.5 L82.1 110.1 L82.4 110.4 L82.8 111.2 L83.1 110.8 L83.5 110.0 L83.8 110.1 L84.2 111.9 L84.5 109.4 L84.9 110.3 L85.2 111.7 L85.6 110.5 L85.9 108.1 L86.3 110.6 L86.6 109.9 L87.0 110.3 L87.3 111.5 L87.7 111.0 L88.0 110.3 L88.4 111.6 L88.7 111.2 L89.1 110.9 L89.4 111.2 L89.8 111.2 L90.1 110.7 L90.5 110.6 L90.8 111.2 L91.2 110.2 L91.5 110.0 L91.9 112.7 L92.2 111.2 L92.6 111.5 L92.9 111.4 L93.3 111.7 L93.6 111.7 L94.0 111.9 L94.3 111.0 L94.7 112.9 L95.0 111.3 L95.4 113.2 L95.7 110.3 L96.1 111.3 L96.4 113.6 L96.8 112.5 L97.1 112.2 L97.5 113.4 L97.8 112.1 L98.2 113.3 L98.5 111.1 L98.9 113.1 L99.2 113.0 L99.6 114.4 L99.9 114.9 L100.3 113.2 L100.6 115.9 L101.0 113.8 L101.3 112.4 L101.7 112.2 L102.0 116.3 L102.4 114.8 L102.7 114.4 L103.1 114.4 L103.4 114.2 L103.8 116.8 L104.1 115.2 L104.5 116.5 L104.8 113.9 L105.2 111.1 L105.5 113.7 L105.9 111.9 L106.2 106.1 L106.6 97.9 L106.9 86.1 L107.3 77.6 L107.6 66.0 L108.0 54.7 L108.3 45.5 L108.7 41.9 L109.0 41.2 L109.4 39.2 L109.7 37.5 L110.1 37.3 L110.4 36.6 L110.8 36.5 L111.1 38.4 L111.5 38.0 L111.8 40.7 L112.2 42.0 L112.5 50.1 L112.9 67.9 L113.2 81.6 L113.6 94.9 L113.9 107.8 L114.3 113.4 L114.6 112.8 L115.0 114.8 L115.3 116.8 L115.7 116.5 L116.0 115.4 L116.4 118.0 L116.7 119.7 L117.1 119.2 L117.4 121.4 L117.8 121.7 L118.1 122.2 L118.5 121.6 L118.8 121.5 L119.2 121.8 L119.5 122.3 L119.9 122.8 L120.2 122.8 L120.6 122.2 L120.9 122.7 L121.3 123.1 L121.6 121.3 L122.0 122.2 L122.3 122.0 L122.7 122.4 L123.0 122.1 L123.4 121.9 L123.7 121.0 L124.1 122.3 L124.4 121.7 L124.8 119.6 L125.1 120.3 L125.5 116.6 L125.8 116.8 L126.2 112.1 L126.5 109.6 L126.9 108.2 L127.2 106.0 L127.6 104.3 L127.9 103.9 L128.3 100.7 L128.6 99.4 L129.0 99.5 L129.3 99.4 L129.7 104.0 L130.0 105.0 L130.4 107.3 L130.7 107.5 L131.1 111.4 L131.4 114.7 L131.8 117.6 L132.1 124.1 L132.5 124.6 L132.8 123.9 L133.2 124.4 L133.5 125.2 L133.9 125.5 L134.2 125.1 L134.6 125.8 L134.9 126.1 L135.3 123.6 L135.6 124.3 L136.0 123.9 L136.3 125.0 L136.7 126.3 L137.0 125.6 L137.4 124.0 L137.7 124.8 L138.1 126.1 L138.4 124.6 L138.8 125.1 L139.1 125.5 L139.5 123.5 L139.8 126.0 L140.2 125.8 L140.5 126.5 L140.9 125.4 L141.2 126.1 L141.6 126.7 L141.9 127.9 L142.3 128.2 L142.6 128.6 L143.0 130.7 L143.3 130.3 L143.7 128.5 L144.0 128.6 L144.4 130.9 L144.7 129.1 L145.1 130.7 L145.4 131.0 L145.8 129.1 L146.1 129.3 L146.5 129.4 L146.8 128.2 L147.2 127.9 L147.5 128.2 L147.9 129.1 L148.2 127.6 L148.6 127.6 L148.9 127.1 L149.3 126.0 L149.6 128.4 L150.0 124.5 L150.3 126.1 L150.7 127.2 L151.0 125.4 L151.4 127.3 L151.7 127.9 L152.1 125.9 L152.4 126.9 L152.8 125.7 L153.1 127.2 L153.5 126.8 L153.8 126.9 L154.2 128.0 L154.5 127.2 L154.9 128.0 L155.2 127.4 L155.6 125.7 L155.9 127.2 L156.3 127.5 L156.6 125.8 L157.0 128.5 L157.3 127.4 L157.7 127.8 L158.0 126.7 L158.4 127.7 L158.7 128.0 L159.1 127.5 L159.4 127.9 L159.8 126.0 L160.1 129.2 L160.5 126.8 L160.8 125.6 L161.2 126.5 L161.5 126.5 L161.9 127.6 L162.2 126.1 L162.6 127.0 L162.9 125.7 L163.3 128.4 L163.6 126.7 L164.0 127.9 L164.3 124.9 L164.7 126.3 L165.0 124.6 L165.4 126.2 L165.7 126.5 L166.1 124.6 L166.4 125.2 L166.8 125.3 L167.1 125.2 L167.5 126.1 L167.8 126.0 L168.2 125.8 L168.5 127.4 L168.9 127.9 L169.2 126.4 L169.6 127.3 L169.9 128.0 L170.3 127.8 L170.6 127.5 L171.0 128.9 L171.3 129.0 L171.7 129.0 L172.0 128.2 L172.4 130.3 L172.7 130.1 L173.1 128.3 L173.4 128.6 L173.8 129.8 L174.1 128.1 L174.5 129.3 L174.8 129.0 L175.2 128.4 L175.5 128.9 L175.9 127.8 L176.2 128.9 L176.6 127.6 L176.9 131.6 L177.3 131.0 L177.6 130.9 L178.0 130.1 L178.3 130.8 L178.7 131.2 L179.0 131.0 L179.4 131.1 L179.7 129.5 L180.1 130.8 L180.4 129.9 L180.8 129.3 L181.1 129.3 L181.5 130.7 L181.8 131.2 L182.2 129.0 L182.5 131.8 L182.9 131.5 L183.2 129.8 L183.6 129.7 L183.9 130.0 L184.3 130.9 L184.6 129.7 L185.0 129.0 L185.3 129.1 L185.7 125.5 L186.0 126.1 L186.4 125.6 L186.7 123.5 L187.1 122.4 L187.4 120.2 L187.8 118.5 L188.1 116.0 L188.5 113.1 L188.8 111.7 L189.2 109.9 L189.5 109.1 L189.9 108.7 L190.2 106.9 L190.6 105.1 L190.9 104.4 L191.3 104.1 L191.6 104.7 L192.0 105.4 L192.3 106.6 L192.7 107.5 L193.0 110.5 L193.4 111.6 L193.7 113.6 L194.1 116.6 L194.4 120.9 L194.8 122.1 L195.1 126.1 L195.5 126.9 L195.8 127.0 L196.2 128.9 L196.5 129.2 L196.9 129.8 L197.2 130.8 L197.6 130.3 L197.9 131.6 L198.3 131.2 L198.6 131.8 L199.0 132.1 L199.3 128.6 L199.7 131.7 L200.0 129.9 L200.4 131.6 L200.7 130.7 L201.1 131.5 L201.4 132.6 L201.8 129.8 L202.1 131.5 L202.5 131.2 L202.8 129.6 L203.2 131.8 L203.5 131.2 L203.9 130.7 L204.2 130.5 L204.6 133.8 L204.9 130.7 L205.3 129.4 L205.6 130.2 L206.0 130.7 L206.3 130.7 L206.7 130.9 L207.0 130.1 L207.4 131.5 L207.7 130.6 L208.1 129.8 L208.4 130.3 L208.8 130.7 L209.1 131.7 L209.5 131.4 L209.8 130.7 L210.2 131.0 L210.5 131.2 L210.9 132.8 L211.2 130.6 L211.6 131.6 L211.9 131.8 L212.3 130.4 L212.6 131.4 L213.0 131.4 L213.3 130.9 L213.7 131.9 L214.0 132.3 L214.4 132.4 L214.7 131.3 L215.1 131.7 L215.4 133.5 L215.8 130.5 L216.1 131.6 L216.5 132.2 L216.8 131.5 L217.2 131.9 L217.5 131.5 L217.9 131.9 L218.2 132.4 L218.6 131.1 L218.9 131.4 L219.3 131.1 L219.6 130.8 L220.0 131.1 L220.3 130.2 L220.7 131.7 L221.0 132.5 L221.4 132.5 L221.7 132.1 L222.1 130.1 L222.4 131.7 L222.8 129.2 L223.1 128.7 L223.5 128.2 L223.8 123.6 L224.2 123.5 L224.5 121.7 L224.9 120.0 L225.2 118.7 L225.6 119.6 L225.9 118.7 L226.3 119.7 L226.6 119.7 L227.0 117.3 L227.3 117.7 L227.7 117.5 L228.0 116.5 L228.4 116.2 L228.7 116.9 L229.1 116.4 L229.4 114.9 L229.8 115.5 L230.1 116.2 L230.5 114.4 L230.8 115.5 L231.2 118.6 L231.5 119.3 L231.9 117.8 L232.2 119.4 L232.6 122.6 L232.9 123.0 L233.3 125.1 L233.6 126.0 L234.0 127.9 L234.3 125.6 L234.7 126.1 L235.0 127.2 L235.4 129.3 L235.7 128.5 L236.1 127.4 L236.4 129.4 L236.8 129.7 L237.1 129.1 L237.5 129.2 L237.8 130.0 L238.2 130.8 L238.5 130.1 L238.9 130.5 L239.2 130.2 L239.6 130.1 L239.9 129.8 L240.3 130.9 L240.6 130.5 L241.0 130.7 L241.3 131.8 L241.7 131.5 L242.0 131.9 L242.4 130.0 L242.7 131.9 L243.1 131.0 L243.4 130.9 L243.8 131.0 L244.1 132.9 L244.5 132.7 L244.8 131.5 L245.2 131.3 L245.5 132.4 L245.9 132.1 L246.2 134.0 L246.6 131.5 L246.9 131.3 L247.3 132.8 L247.6 133.1 L248.0 133.4 L248.3 134.0 L248.7 135.3 L249.0 133.3 L249.4 133.3 L249.7 132.4 L250.1 134.2 L250.4 134.7 L250.8 133.8 L251.1 135.0 L251.5 134.1 L251.8 135.3 L252.2 134.3 L252.5 133.2 L252.9 133.5 L253.2 132.8 L253.6 132.6 L253.9 134.3 L254.3 134.8 L254.6 135.8 L255.0 134.1 L255.3 134.0 L255.7 133.3 L256.0 135.1 L256.4 134.7 L256.7 133.9 L257.1 135.1 L257.4 135.0 L257.8 133.0 L258.1 135.3 L258.5 134.8 L258.8 134.5 L259.2 134.5 L259.5 136.4 L259.9 136.3 L260.2 136.6 L260.6 134.1 L260.9 134.6 L261.3 136.0 L261.6 134.3 L262.0 134.8 L262.3 133.9 L262.7 137.1 L263.0 136.5 L263.4 136.1 L263.7 135.9 L264.1 135.5 L264.4 135.5 L264.8 136.5 L265.1 135.4 L265.5 137.1 L265.8 135.7 L266.2 135.4 L266.5 137.3 L266.9 136.1 L267.2 136.7 L267.6 136.0 L267.9 134.4 L268.3 136.9 L268.6 135.3 L269.0 137.4 L269.3 135.2 L269.7 135.0 L270.0 136.9 L270.4 136.9 L270.7 136.6 L271.1 135.4 L271.4 137.2 L271.8 135.1 L272.1 136.0 L272.5 135.6 L272.8 135.9 L273.2 136.9 L273.5 135.6 L273.9 136.6 L274.2 136.7 L274.6 134.6 L274.9 135.0 L275.3 135.6 L275.6 135.4 L276.0 136.1 L276.3 134.2 L276.7 136.4 L277.0 136.4 L277.4 135.6 L277.7 134.5 L278.1 135.6 L278.4 135.1 L278.8 136.0 L279.1 135.4 L279.5 136.1 L279.8 135.1 L280.2 136.6 L280.5 133.4 L280.9 134.5 L281.2 135.7 L281.6 134.0 L281.9 135.9 L282.3 134.2 L282.6 135.2 L283.0 134.4 L283.3 134.7 L283.7 135.2 L284.0 135.0 L284.4 134.7 L284.7 136.8 L285.1 135.0 L285.4 134.1 L285.8 135.7 L286.1 135.5 L286.5 135.9 L286.8 136.3 L287.2 134.0 L287.5 135.6 L287.9 135.7 L288.2 134.7 L288.6 134.8 L288.9 132.0 L289.3 134.1 L289.6 136.1 L290.0 133.0 L290.3 134.1 L290.7 134.8 L291.0 135.1 L291.4 136.1 L291.7 133.3 L292.1 134.8 L292.4 135.6 L292.8 133.8 L293.1 134.9 L293.5 136.6 L293.8 136.2 L294.2 135.6 L294.5 133.0 L294.9 135.1 L295.2 135.6 L295.6 135.1 L295.9 135.3 L296.3 138.1 L296.6 135.3 L297.0 134.7 L297.3 135.8 L297.7 135.4 L298.0 135.4 L298.4 135.7 L298.7 136.5 L299.1 136.1 L299.4 134.9 L299.8 135.8 L300.1 136.4 L300.5 135.7 L300.8 137.1 L301.2 136.8 L301.5 135.3 L301.9 136.5 L302.2 138.0 L302.6 137.6 L302.9 136.3 L303.3 137.2 L303.6 135.9 L304.0 135.2 L304.3 137.0 L304.7 136.8 L305.0 137.0" fill="none" stroke="#0000ff" stroke-width="1.80" stroke-linejoin="round"/>
<rect x="26.9" y="109.2" width="4.2" height="4.2" fill="#fff" stroke="#000000" stroke-width="0.65"/>
<rect x="37.3" y="134.2" width="4.2" height="4.2" fill="#fff" stroke="#000000" stroke-width="0.65"/>
<rect x="47.7" y="150.6" width="4.2" height="4.2" fill="#fff" stroke="#000000" stroke-width="0.65"/>
<rect x="58.1" y="160.5" width="4.2" height="4.2" fill="#fff" stroke="#000000" stroke-width="0.65"/>
<rect x="68.5" y="163.9" width="4.2" height="4.2" fill="#fff" stroke="#000000" stroke-width="0.65"/>
<rect x="78.9" y="168.7" width="4.2" height="4.2" fill="#fff" stroke="#000000" stroke-width="0.65"/>
<rect x="89.3" y="172.5" width="4.2" height="4.2" fill="#fff" stroke="#000000" stroke-width="0.65"/>
<rect x="99.7" y="173.7" width="4.2" height="4.2" fill="#fff" stroke="#000000" stroke-width="0.65"/>
<rect x="120.5" y="180.1" width="4.2" height="4.2" fill="#fff" stroke="#000000" stroke-width="0.65"/>
<rect x="130.9" y="168.2" width="4.2" height="4.2" fill="#fff" stroke="#000000" stroke-width="0.65"/>
<rect x="141.3" y="186.6" width="4.2" height="4.2" fill="#fff" stroke="#000000" stroke-width="0.65"/>
<rect x="151.7" y="188.3" width="4.2" height="4.2" fill="#fff" stroke="#000000" stroke-width="0.65"/>
<rect x="162.1" y="185.7" width="4.2" height="4.2" fill="#fff" stroke="#000000" stroke-width="0.65"/>
<rect x="172.5" y="191.1" width="4.2" height="4.2" fill="#fff" stroke="#000000" stroke-width="0.65"/>
<rect x="182.9" y="192.1" width="4.2" height="4.2" fill="#fff" stroke="#000000" stroke-width="0.65"/>
<rect x="193.3" y="186.7" width="4.2" height="4.2" fill="#fff" stroke="#000000" stroke-width="0.65"/>
<rect x="203.7" y="195.1" width="4.2" height="4.2" fill="#fff" stroke="#000000" stroke-width="0.65"/>
<rect x="214.1" y="193.7" width="4.2" height="4.2" fill="#fff" stroke="#000000" stroke-width="0.65"/>
<rect x="224.5" y="179.5" width="4.2" height="4.2" fill="#fff" stroke="#000000" stroke-width="0.65"/>
<rect x="234.9" y="192.5" width="4.2" height="4.2" fill="#fff" stroke="#000000" stroke-width="0.65"/>
<rect x="245.3" y="194.6" width="4.2" height="4.2" fill="#fff" stroke="#000000" stroke-width="0.65"/>
<rect x="255.7" y="197.2" width="4.2" height="4.2" fill="#fff" stroke="#000000" stroke-width="0.65"/>
<rect x="266.1" y="198.2" width="4.2" height="4.2" fill="#fff" stroke="#000000" stroke-width="0.65"/>
<rect x="276.5" y="197.4" width="4.2" height="4.2" fill="#fff" stroke="#000000" stroke-width="0.65"/>
<rect x="286.9" y="197.0" width="4.2" height="4.2" fill="#fff" stroke="#000000" stroke-width="0.65"/>
<rect x="297.3" y="197.7" width="4.2" height="4.2" fill="#fff" stroke="#000000" stroke-width="0.65"/>
<circle cx="29.0" cy="93.8" r="2.1" fill="#fff" stroke="#ff0000" stroke-width="0.65"/>
<circle cx="39.4" cy="119.8" r="2.1" fill="#fff" stroke="#ff0000" stroke-width="0.65"/>
<circle cx="49.8" cy="127.8" r="2.1" fill="#fff" stroke="#ff0000" stroke-width="0.65"/>
<circle cx="60.2" cy="136.6" r="2.1" fill="#fff" stroke="#ff0000" stroke-width="0.65"/>
<circle cx="70.6" cy="142.2" r="2.1" fill="#fff" stroke="#ff0000" stroke-width="0.65"/>
<circle cx="81.0" cy="145.2" r="2.1" fill="#fff" stroke="#ff0000" stroke-width="0.65"/>
<circle cx="91.4" cy="142.5" r="2.1" fill="#fff" stroke="#ff0000" stroke-width="0.65"/>
<circle cx="101.8" cy="145.2" r="2.1" fill="#fff" stroke="#ff0000" stroke-width="0.65"/>
<circle cx="111.2" cy="81.2" r="2.1" fill="#fff" stroke="#ff0000" stroke-width="0.65"/>
<circle cx="122.6" cy="158.2" r="2.1" fill="#fff" stroke="#ff0000" stroke-width="0.65"/>
<circle cx="133.0" cy="147.7" r="2.1" fill="#fff" stroke="#ff0000" stroke-width="0.65"/>
<circle cx="143.4" cy="164.2" r="2.1" fill="#fff" stroke="#ff0000" stroke-width="0.65"/>
<circle cx="153.8" cy="165.0" r="2.1" fill="#fff" stroke="#ff0000" stroke-width="0.65"/>
<circle cx="164.2" cy="162.8" r="2.1" fill="#fff" stroke="#ff0000" stroke-width="0.65"/>
<circle cx="174.6" cy="169.0" r="2.1" fill="#fff" stroke="#ff0000" stroke-width="0.65"/>
<circle cx="185.0" cy="167.2" r="2.1" fill="#fff" stroke="#ff0000" stroke-width="0.65"/>
<circle cx="195.4" cy="160.1" r="2.1" fill="#fff" stroke="#ff0000" stroke-width="0.65"/>
<circle cx="205.8" cy="171.4" r="2.1" fill="#fff" stroke="#ff0000" stroke-width="0.65"/>
<circle cx="216.2" cy="171.8" r="2.1" fill="#fff" stroke="#ff0000" stroke-width="0.65"/>
<circle cx="226.6" cy="162.3" r="2.1" fill="#fff" stroke="#ff0000" stroke-width="0.65"/>
<circle cx="237.0" cy="171.1" r="2.1" fill="#fff" stroke="#ff0000" stroke-width="0.65"/>
<circle cx="247.4" cy="173.7" r="2.1" fill="#fff" stroke="#ff0000" stroke-width="0.65"/>
<circle cx="257.8" cy="174.4" r="2.1" fill="#fff" stroke="#ff0000" stroke-width="0.65"/>
<circle cx="268.2" cy="175.4" r="2.1" fill="#fff" stroke="#ff0000" stroke-width="0.65"/>
<circle cx="278.6" cy="175.1" r="2.1" fill="#fff" stroke="#ff0000" stroke-width="0.65"/>
<circle cx="289.0" cy="173.2" r="2.1" fill="#fff" stroke="#ff0000" stroke-width="0.65"/>
<circle cx="299.4" cy="174.9" r="2.1" fill="#fff" stroke="#ff0000" stroke-width="0.65"/>
<path d="M26.9 72.9L31.1 72.9L29.0 69.1Z" fill="#fff" stroke="#00e600" stroke-width="0.65"/>
<path d="M37.3 100.1L41.5 100.1L39.4 96.3Z" fill="#fff" stroke="#00e600" stroke-width="0.65"/>
<path d="M47.7 117.2L51.9 117.2L49.8 113.4Z" fill="#fff" stroke="#00e600" stroke-width="0.65"/>
<path d="M58.1 124.5L62.3 124.5L60.2 120.7Z" fill="#fff" stroke="#00e600" stroke-width="0.65"/>
<path d="M68.5 126.6L72.7 126.6L70.6 122.9Z" fill="#fff" stroke="#00e600" stroke-width="0.65"/>
<path d="M78.9 123.4L83.1 123.4L81.0 119.6Z" fill="#fff" stroke="#00e600" stroke-width="0.65"/>
<path d="M89.3 122.4L93.5 122.4L91.4 118.6Z" fill="#fff" stroke="#00e600" stroke-width="0.65"/>
<path d="M99.7 131.4L103.9 131.4L101.8 127.6Z" fill="#fff" stroke="#00e600" stroke-width="0.65"/>
<path d="M120.5 142.4L124.7 142.4L122.6 138.6Z" fill="#fff" stroke="#00e600" stroke-width="0.65"/>
<path d="M130.9 140.6L135.1 140.6L133.0 136.8Z" fill="#fff" stroke="#00e600" stroke-width="0.65"/>
<path d="M141.3 147.1L145.5 147.1L143.4 143.3Z" fill="#fff" stroke="#00e600" stroke-width="0.65"/>
<path d="M151.7 146.9L155.9 146.9L153.8 143.1Z" fill="#fff" stroke="#00e600" stroke-width="0.65"/>
<path d="M162.1 147.7L166.3 147.7L164.2 144.0Z" fill="#fff" stroke="#00e600" stroke-width="0.65"/>
<path d="M172.5 149.1L176.7 149.1L174.6 145.3Z" fill="#fff" stroke="#00e600" stroke-width="0.65"/>
<path d="M182.9 147.9L187.1 147.9L185.0 144.1Z" fill="#fff" stroke="#00e600" stroke-width="0.65"/>
<path d="M193.3 147.4L197.5 147.4L195.4 143.6Z" fill="#fff" stroke="#00e600" stroke-width="0.65"/>
<path d="M203.7 153.1L207.9 153.1L205.8 149.4Z" fill="#fff" stroke="#00e600" stroke-width="0.65"/>
<path d="M214.1 154.4L218.3 154.4L216.2 150.6Z" fill="#fff" stroke="#00e600" stroke-width="0.65"/>
<path d="M224.5 148.6L228.7 148.6L226.6 144.8Z" fill="#fff" stroke="#00e600" stroke-width="0.65"/>
<path d="M234.9 156.3L239.1 156.3L237.0 152.5Z" fill="#fff" stroke="#00e600" stroke-width="0.65"/>
<path d="M245.3 156.7L249.5 156.7L247.4 152.9Z" fill="#fff" stroke="#00e600" stroke-width="0.65"/>
<path d="M255.7 157.3L259.9 157.3L257.8 153.5Z" fill="#fff" stroke="#00e600" stroke-width="0.65"/>
<path d="M266.1 157.4L270.3 157.4L268.2 153.6Z" fill="#fff" stroke="#00e600" stroke-width="0.65"/>
<path d="M276.5 157.4L280.7 157.4L278.6 153.6Z" fill="#fff" stroke="#00e600" stroke-width="0.65"/>
<path d="M286.9 156.5L291.1 156.5L289.0 152.7Z" fill="#fff" stroke="#00e600" stroke-width="0.65"/>
<path d="M297.3 156.9L301.5 156.9L299.4 153.1Z" fill="#fff" stroke="#00e600" stroke-width="0.65"/>
<path d="M26.9 55.1L31.1 55.1L29.0 58.9Z" fill="#fff" stroke="#0000ff" stroke-width="0.65"/>
<path d="M37.3 74.4L41.5 74.4L39.4 78.2Z" fill="#fff" stroke="#0000ff" stroke-width="0.65"/>
<path d="M47.7 89.9L51.9 89.9L49.8 93.6Z" fill="#fff" stroke="#0000ff" stroke-width="0.65"/>
<path d="M58.1 97.8L62.3 97.8L60.2 101.5Z" fill="#fff" stroke="#0000ff" stroke-width="0.65"/>
<path d="M68.5 103.5L72.7 103.5L70.6 107.3Z" fill="#fff" stroke="#0000ff" stroke-width="0.65"/>
<path d="M78.9 108.5L83.1 108.5L81.0 112.3Z" fill="#fff" stroke="#0000ff" stroke-width="0.65"/>
<path d="M89.3 109.4L93.5 109.4L91.4 113.2Z" fill="#fff" stroke="#0000ff" stroke-width="0.65"/>
<path d="M99.7 112.8L103.9 112.8L101.8 116.6Z" fill="#fff" stroke="#0000ff" stroke-width="0.65"/>
<path d="M110.1 41.5L114.3 41.5L112.2 45.3Z" fill="#fff" stroke="#0000ff" stroke-width="0.65"/>
<path d="M120.5 120.7L124.7 120.7L122.6 124.5Z" fill="#fff" stroke="#0000ff" stroke-width="0.65"/>
<path d="M130.9 122.3L135.1 122.3L133.0 126.1Z" fill="#fff" stroke="#0000ff" stroke-width="0.65"/>
<path d="M141.3 127.2L145.5 127.2L143.4 131.0Z" fill="#fff" stroke="#0000ff" stroke-width="0.65"/>
<path d="M151.7 124.8L155.9 124.8L153.8 128.6Z" fill="#fff" stroke="#0000ff" stroke-width="0.65"/>
<path d="M162.1 124.0L166.3 124.0L164.2 127.8Z" fill="#fff" stroke="#0000ff" stroke-width="0.65"/>
<path d="M172.5 127.0L176.7 127.0L174.6 130.8Z" fill="#fff" stroke="#0000ff" stroke-width="0.65"/>
<path d="M182.9 128.1L187.1 128.1L185.0 131.9Z" fill="#fff" stroke="#0000ff" stroke-width="0.65"/>
<path d="M193.3 123.8L197.5 123.8L195.4 127.5Z" fill="#fff" stroke="#0000ff" stroke-width="0.65"/>
<path d="M203.7 129.1L207.9 129.1L205.8 132.9Z" fill="#fff" stroke="#0000ff" stroke-width="0.65"/>
<path d="M214.1 129.5L218.3 129.5L216.2 133.3Z" fill="#fff" stroke="#0000ff" stroke-width="0.65"/>
<path d="M224.5 116.8L228.7 116.8L226.6 120.5Z" fill="#fff" stroke="#0000ff" stroke-width="0.65"/>
<path d="M234.9 127.4L239.1 127.4L237.0 131.1Z" fill="#fff" stroke="#0000ff" stroke-width="0.65"/>
<path d="M245.3 131.2L249.5 131.2L247.4 134.9Z" fill="#fff" stroke="#0000ff" stroke-width="0.65"/>
<path d="M255.7 132.7L259.9 132.7L257.8 136.5Z" fill="#fff" stroke="#0000ff" stroke-width="0.65"/>
<path d="M266.1 134.5L270.3 134.5L268.2 138.3Z" fill="#fff" stroke="#0000ff" stroke-width="0.65"/>
<path d="M276.5 133.7L280.7 133.7L278.6 137.5Z" fill="#fff" stroke="#0000ff" stroke-width="0.65"/>
<path d="M286.9 132.7L291.1 132.7L289.0 136.5Z" fill="#fff" stroke="#0000ff" stroke-width="0.65"/>
<path d="M297.3 134.0L301.5 134.0L299.4 137.8Z" fill="#fff" stroke="#0000ff" stroke-width="0.65"/>
<rect x="79.9" y="95.7" width="27.5" height="92.4" fill="none" stroke="#9250e8" stroke-width="1.5" stroke-dasharray="1.8 2.2"/>
<rect x="145.1" y="108.0" width="18.2" height="92.5" fill="none" stroke="#9250e8" stroke-width="1.5" stroke-dasharray="1.8 2.2"/>
<rect x="186.5" y="101.5" width="10.5" height="92.4" fill="none" stroke="#9250e8" stroke-width="1.5" stroke-dasharray="1.8 2.2"/>
<rect x="27.8" y="1.8" width="277.8" height="206.5" fill="none" stroke="#000" stroke-width="1.7"/>
<line x1="47.6" y1="208.3" x2="47.6" y2="205.8" stroke="#000" stroke-width="1.3"/>
<line x1="67.5" y1="208.3" x2="67.5" y2="204.3" stroke="#000" stroke-width="1.3"/>
<line x1="87.3" y1="208.3" x2="87.3" y2="205.8" stroke="#000" stroke-width="1.3"/>
<line x1="107.2" y1="208.3" x2="107.2" y2="204.3" stroke="#000" stroke-width="1.3"/>
<line x1="127.0" y1="208.3" x2="127.0" y2="205.8" stroke="#000" stroke-width="1.3"/>
<line x1="146.9" y1="208.3" x2="146.9" y2="204.3" stroke="#000" stroke-width="1.3"/>
<line x1="166.7" y1="208.3" x2="166.7" y2="205.8" stroke="#000" stroke-width="1.3"/>
<line x1="186.5" y1="208.3" x2="186.5" y2="204.3" stroke="#000" stroke-width="1.3"/>
<line x1="206.4" y1="208.3" x2="206.4" y2="205.8" stroke="#000" stroke-width="1.3"/>
<line x1="226.2" y1="208.3" x2="226.2" y2="204.3" stroke="#000" stroke-width="1.3"/>
<line x1="246.1" y1="208.3" x2="246.1" y2="205.8" stroke="#000" stroke-width="1.3"/>
<line x1="265.9" y1="208.3" x2="265.9" y2="204.3" stroke="#000" stroke-width="1.3"/>
<line x1="285.8" y1="208.3" x2="285.8" y2="205.8" stroke="#000" stroke-width="1.3"/>
<text x="27.8" y="221.6" text-anchor="middle" font-size="11" font-weight="bold">10</text>
<text x="67.5" y="221.6" text-anchor="middle" font-size="11" font-weight="bold">20</text>
<text x="107.2" y="221.6" text-anchor="middle" font-size="11" font-weight="bold">30</text>
<text x="146.9" y="221.6" text-anchor="middle" font-size="11" font-weight="bold">40</text>
<text x="186.5" y="221.6" text-anchor="middle" font-size="11" font-weight="bold">50</text>
<text x="226.2" y="221.6" text-anchor="middle" font-size="11" font-weight="bold">60</text>
<text x="265.9" y="221.6" text-anchor="middle" font-size="11" font-weight="bold">70</text>
<text x="305.6" y="221.6" text-anchor="middle" font-size="11" font-weight="bold">80</text>
<text transform="translate(87.9 92.3) rotate(-90)" font-size="11.0" font-weight="bold" textLength="25.2" lengthAdjust="spacingAndGlyphs">(100)</text>
<text transform="translate(101.3 92.3) rotate(-90)" font-size="11.0" font-weight="bold" textLength="25.2" lengthAdjust="spacingAndGlyphs">(101)</text>
<text transform="translate(97.1 62.9) rotate(-90)" font-size="11.0" font-weight="bold" textLength="25.6" lengthAdjust="spacingAndGlyphs">(002)</text>
<text transform="translate(158.3 103.9) rotate(-90)" font-size="11.0" font-weight="bold" textLength="26.9" lengthAdjust="spacingAndGlyphs">(110)</text>
<text transform="translate(195.6 97.1) rotate(-90)" font-size="11.0" font-weight="bold" textLength="26.8" lengthAdjust="spacingAndGlyphs">(112)</text>
<text x="215.1" y="19.0" font-size="11" font-weight="bold">ITO substrate</text>
<line x1="223.0" y1="29.2" x2="243.3" y2="29.2" stroke="#0000ff" stroke-width="1.5"/>
<path d="M230.7 26.9L235.7 26.9L233.2 31.4Z" fill="#fff" stroke="#0000ff" stroke-width="0.65"/>
<text x="246.5" y="32.8" font-size="11" font-weight="bold">CdS<tspan font-size="8.5" dy="3.9">N</tspan></text>
<line x1="223.0" y1="48.8" x2="243.3" y2="48.8" stroke="#00e600" stroke-width="1.5"/>
<path d="M230.7 51.0L235.7 51.0L233.2 46.5Z" fill="#fff" stroke="#00e600" stroke-width="0.65"/>
<text x="246.5" y="52.4" font-size="11" font-weight="bold">CdS<tspan font-size="8.5" dy="3.9">H</tspan></text>
<line x1="223.0" y1="68.3" x2="243.3" y2="68.3" stroke="#ff0000" stroke-width="1.5"/>
<circle cx="233.2" cy="68.3" r="2.5" fill="#fff" stroke="#ff0000" stroke-width="0.65"/>
<text x="246.5" y="71.9" font-size="11" font-weight="bold">CdS<tspan font-size="8.5" dy="3.9">P</tspan></text>
<line x1="223.0" y1="87.8" x2="243.3" y2="87.8" stroke="#000000" stroke-width="1.5"/>
<rect x="230.7" y="85.3" width="5.0" height="5.0" fill="#fff" stroke="#000000" stroke-width="0.65"/>
<text x="246.5" y="91.4" font-size="11" font-weight="bold">ITO</text>
<text x="1" y="15.7" font-size="20" stroke="#000" stroke-width="0.55">(a)</text>
<text transform="translate(19.0 162.7) rotate(-90)" font-size="12.6" font-weight="bold" textLength="97" lengthAdjust="spacingAndGlyphs">Intensity (a.u.)</text>
<text x="149.8" y="242.1" font-size="14.5" font-weight="bold">2</text>
<text x="157.7" y="242.1" font-size="14.5" stroke="#000" stroke-width="0.35">θ</text>
<text x="167.8" y="241.9" font-size="15.5">(</text>
<circle cx="175.4" cy="230.5" r="1.5" fill="none" stroke="#000" stroke-width="0.8"/>
<text x="176.4" y="241.9" font-size="15.5">)</text>
<path d="M350.5 95.7 L353.2 100.4 L350.8 98.8 L350.6 99.7 L352.7 107.5 L352.9 101.6 L354.8 107.1 L352.4 106.0 L352.5 105.0 L354.2 111.1 L355.3 111.7 L355.8 116.8 L356.9 120.0 L354.9 115.0 L356.0 119.1 L357.1 120.3 L358.5 117.5 L358.6 117.7 L358.2 125.0 L358.0 121.1 L360.3 122.8 L360.9 123.0 L363.0 124.2 L360.6 123.8 L362.9 128.0 L360.5 130.1 L361.6 126.7 L362.0 124.6 L362.6 128.6 L362.7 125.2 L363.5 127.7 L364.4 133.1 L364.5 136.7 L365.9 132.6 L365.7 129.8 L366.2 135.0 L367.9 127.8 L367.4 132.0 L367.7 137.8 L368.0 136.3 L368.5 131.3 L369.4 130.9 L368.7 137.5 L370.7 135.6 L371.5 134.6 L371.6 137.3 L370.8 135.2 L370.5 132.1 L371.8 139.1 L372.6 135.8 L373.6 135.2 L373.3 134.6 L373.7 138.8 L375.3 136.5 L374.3 140.3 L375.9 138.3 L376.2 141.9 L375.3 138.5 L376.7 138.1 L376.7 135.0 L376.9 137.4 L376.9 142.2 L377.5 148.2 L379.1 137.7 L379.1 138.5 L379.9 142.2 L379.6 142.7 L380.5 139.9 L381.0 141.9 L380.8 137.8 L381.2 141.2 L382.6 144.3 L383.0 146.2 L382.9 141.8 L383.7 141.7 L384.5 143.6 L385.4 145.3 L384.8 143.9 L385.8 140.8 L386.8 143.5 L386.5 145.1 L387.4 140.9 L386.6 139.3 L388.3 143.9 L388.3 143.6 L388.2 145.1 L389.4 142.9 L389.9 141.1 L390.4 141.6 L390.8 140.0 L391.0 140.1 L391.3 140.9 L391.8 141.0 L392.3 144.9 L392.9 138.9 L393.2 141.8 L393.7 140.3 L394.3 145.4 L394.6 142.2 L395.3 140.5 L395.7 143.5 L395.8 141.6 L396.3 140.3 L396.7 145.3 L397.2 143.2 L397.8 145.7 L398.2 144.3 L398.6 143.3 L399.1 141.7 L399.6 138.7 L400.0 143.1 L400.4 141.8 L400.9 143.5 L401.3 142.0 L401.8 140.5 L402.2 139.9 L402.7 144.3 L403.1 146.0 L403.6 142.3 L404.0 144.3 L404.5 146.8 L404.9 141.5 L405.4 142.8 L405.8 141.0 L406.3 146.9 L406.7 144.7 L407.2 143.0 L407.6 140.2 L408.1 144.0 L408.5 147.0 L409.0 143.9 L409.4 143.7 L409.9 146.5 L410.3 142.0 L410.8 145.4 L411.2 147.0 L411.7 143.8 L412.1 143.9 L412.6 146.8 L413.0 146.2 L413.5 146.1 L413.9 147.4 L414.4 147.7 L414.8 145.0 L415.3 145.9 L415.7 148.9 L416.2 150.8 L416.6 151.6 L417.1 146.4 L417.5 151.4 L418.0 150.8 L418.4 149.1 L418.9 150.6 L419.3 151.6 L419.8 154.2 L420.2 147.4 L420.7 151.7 L421.1 150.1 L421.6 150.1 L422.0 153.7 L422.5 153.1 L422.9 148.8 L423.4 150.8 L423.8 152.2 L424.3 148.5 L424.7 154.2 L425.2 152.2 L425.6 153.3 L426.1 154.1 L426.5 158.0 L427.0 154.3 L427.4 153.8 L427.9 159.2 L428.3 154.4 L428.8 154.8 L429.2 153.3 L429.7 159.4 L430.1 158.0 L430.6 158.7 L431.0 158.3 L431.5 157.9 L431.9 156.7 L432.4 157.0 L432.8 160.0 L433.3 159.6 L433.7 163.3 L434.2 158.2 L434.6 159.1 L435.1 158.3 L435.5 163.9 L436.0 158.5 L436.4 163.3 L436.9 165.1 L437.3 162.0 L437.8 164.2 L438.2 158.4 L438.7 162.5 L439.1 160.1 L439.6 164.4 L440.0 164.4 L440.5 163.1 L440.9 167.0 L441.4 166.1 L441.8 164.6 L442.3 164.9 L442.7 163.3 L443.2 166.3 L443.6 171.3 L444.1 165.8 L444.5 168.5 L445.0 166.8 L445.4 169.9 L445.9 169.5 L446.3 168.5 L446.8 165.7 L447.2 168.6 L447.7 172.3 L448.1 169.8 L448.6 171.9 L449.0 170.0 L449.5 167.6 L449.9 172.4 L450.4 172.6 L450.8 171.1 L451.3 171.8 L451.7 173.4 L452.2 172.1 L452.6 174.2 L453.1 173.4 L453.5 169.7 L454.0 174.2 L454.4 173.6 L454.9 173.5 L455.3 176.0 L455.8 174.5 L456.2 176.6 L456.7 177.8 L457.1 176.2 L457.6 173.3 L458.0 174.9 L458.5 178.1 L458.9 176.1 L459.4 175.3 L459.8 176.7 L460.3 177.9 L460.7 177.6 L461.2 178.4 L461.6 176.0 L462.1 177.1 L462.5 177.3 L463.0 177.8 L463.4 174.4 L463.9 177.7 L464.3 175.9 L464.8 180.7 L465.2 181.1 L465.7 181.4 L466.1 180.1 L466.6 178.1 L467.0 180.6 L467.5 178.8 L467.9 180.3 L468.4 177.9 L468.8 178.6 L469.3 180.4 L469.7 182.7 L470.2 179.9 L470.6 183.5 L471.1 184.4 L471.5 178.0 L472.0 180.1 L472.4 178.7 L472.9 180.0 L473.3 179.4 L473.8 180.2 L474.2 181.9 L474.7 181.9 L475.1 180.9 L475.6 180.6 L476.0 180.8 L476.5 180.8 L476.9 181.6 L477.4 180.8 L477.8 181.6 L478.3 179.0 L478.7 182.1 L479.2 183.5 L479.6 181.3 L480.1 179.1 L480.5 183.1 L481.0 180.7 L481.4 177.0 L481.9 181.0 L482.3 182.2 L482.8 181.9 L483.2 183.2 L483.7 182.4 L484.1 181.7 L484.6 179.0 L485.0 180.2 L485.5 182.0 L485.9 182.7 L486.4 180.5 L486.8 181.1 L487.3 182.6 L487.7 179.5 L488.2 179.6 L488.6 181.8 L489.1 182.5 L489.5 181.6 L490.0 179.4 L490.4 182.4 L490.9 180.7 L491.3 183.3 L491.8 182.4 L492.2 182.9 L492.7 183.4 L493.1 182.0 L493.6 183.7 L494.0 184.3 L494.5 183.3 L494.9 184.4 L495.4 182.2 L495.8 184.1 L496.3 183.4 L496.7 182.0 L497.2 183.1 L497.6 182.6 L498.1 182.6 L498.5 183.4 L499.0 184.5 L499.4 183.1 L499.9 183.6 L500.3 182.0 L500.8 183.9 L501.2 185.2 L501.7 185.1 L502.1 184.9 L502.6 184.0 L503.0 183.8 L503.5 184.9 L503.9 183.8 L504.4 184.1 L504.8 186.5 L505.3 184.8 L505.7 187.7 L506.2 184.7 L506.6 186.7 L507.1 185.3 L507.5 186.8 L508.0 185.9 L508.4 187.1 L508.9 187.1 L509.3 187.0 L509.8 188.1 L510.2 189.1 L510.7 187.2 L511.1 188.5 L511.6 187.8 L512.0 187.7 L512.5 189.6 L512.9 185.8 L513.4 187.1 L513.8 186.2 L514.3 187.4 L514.7 187.5 L515.2 190.8 L515.6 188.0 L516.1 189.1 L516.5 188.7 L517.0 187.3 L517.4 188.1 L517.9 189.0 L518.3 187.8 L518.8 187.9 L519.2 188.1 L519.7 186.6 L520.1 187.1 L520.6 187.9 L521.0 188.1 L521.5 187.0 L521.9 187.5 L522.4 187.6 L522.8 187.6 L523.3 188.2 L523.7 187.8 L524.2 187.8 L524.6 186.6 L525.1 186.9 L525.5 187.9 L526.0 186.5 L526.4 187.9 L526.9 187.2 L527.3 187.1 L527.8 188.2 L528.2 187.2 L528.7 187.1 L529.1 187.2 L529.6 187.7 L530.0 189.7 L530.5 186.2 L530.9 187.8 L531.4 187.7 L531.8 188.6 L532.3 187.7 L532.7 186.2 L533.2 189.1 L533.6 187.3 L534.1 188.1 L534.5 187.2 L535.0 187.5 L535.4 188.0 L535.9 189.0 L536.3 189.1 L536.8 188.1 L537.2 188.9 L537.7 188.3 L538.1 188.7 L538.6 188.8 L539.0 189.2 L539.5 188.4 L539.9 188.8 L540.4 189.0 L540.8 188.9 L541.3 188.3 L541.7 190.2 L542.2 188.5 L542.6 189.4 L543.1 189.0 L543.5 189.8 L544.0 187.3 L544.4 190.4 L544.9 188.7 L545.3 188.0 L545.8 189.0 L546.2 190.6 L546.7 189.3 L547.1 188.0 L547.6 188.5 L548.0 189.9 L548.5 187.8 L548.9 188.7 L549.4 188.7 L549.8 190.5 L550.3 188.7 L550.7 189.9 L551.2 188.5 L551.6 188.5 L552.1 189.9 L552.5 189.6 L553.0 187.9 L553.4 189.8 L553.9 189.8 L554.3 188.9 L554.8 189.6 L555.2 189.7 L555.7 189.2 L556.1 189.2 L556.6 189.2 L557.0 189.5 L557.5 188.8 L557.9 189.8 L558.4 188.8 L558.8 190.0 L559.3 189.9 L559.7 189.3 L560.2 190.7 L560.6 191.5 L561.1 191.0 L561.5 189.0 L562.0 190.9 L562.4 190.1 L562.9 189.9 L563.3 189.4 L563.8 189.8 L564.2 190.9 L564.7 190.2 L565.1 189.5 L565.6 189.2 L566.0 189.4 L566.5 190.1 L566.9 191.0 L567.4 188.8 L567.8 189.6 L568.3 189.3 L568.7 189.0 L569.2 189.8 L569.6 189.9 L570.1 188.4 L570.5 188.7 L571.0 190.4 L571.4 189.8 L571.9 190.0 L572.3 189.3 L572.8 189.4 L573.2 190.0 L573.7 189.4 L574.1 188.9 L574.6 189.8 L575.0 190.5 L575.5 189.1 L575.9 190.7 L576.4 190.4 L576.8 189.3 L577.3 190.0 L577.7 190.0 L578.2 190.5 L578.6 190.6 L579.1 189.1 L579.5 189.1 L580.0 190.9 L580.4 190.3 L580.9 190.5 L581.3 190.4 L581.8 191.3 L582.2 189.3 L582.7 191.0 L583.1 189.6 L583.6 190.7 L584.0 191.2 L584.5 189.1 L584.9 190.5 L585.4 190.0 L585.8 190.0 L586.3 190.2 L586.7 189.4 L587.2 189.5 L587.6 190.7 L588.1 190.8 L588.5 189.8 L589.0 189.1 L589.4 191.9 L589.9 191.0 L590.3 190.5 L590.8 189.6 L591.2 190.1 L591.7 190.8 L592.1 190.0 L592.6 192.0 L593.0 191.0 L593.5 191.3 L593.9 190.4 L594.4 190.6 L594.8 190.8 L595.3 191.7 L595.7 191.4 L596.2 191.5 L596.6 192.1 L597.1 192.1 L597.5 193.2 L598.0 192.0 L598.4 191.5 L598.9 192.4 L599.3 193.6 L599.8 192.2 L600.2 192.7 L600.7 192.5 L601.1 193.1 L601.6 193.1 L602.0 192.3 L602.5 192.8 L602.9 193.7 L603.4 193.9 L603.8 193.8 L604.3 193.8 L604.7 193.0 L605.2 193.0 L605.6 194.0 L606.1 192.5 L606.5 193.4 L607.0 192.1 L607.4 193.3 L607.9 193.1 L608.3 192.8 L608.8 194.2 L609.2 193.2 L609.7 193.6 L610.1 193.7 L610.6 193.3 L611.0 194.9 L611.5 193.5 L611.9 194.0 L612.4 192.9 L612.8 193.5 L613.3 193.6 L613.7 193.6 L614.2 193.4 L614.6 194.0 L615.1 195.0 L615.5 193.8 L616.0 193.8 L616.4 193.6 L616.9 195.7 L617.3 195.1 L617.8 194.3 L618.2 194.4 L618.7 193.4 L619.1 193.8 L619.6 194.0 L620.0 194.0 L620.5 193.4 L620.9 193.6 L621.4 194.7 L621.8 194.8 L622.3 193.1 L622.7 194.9 L623.2 195.9 L623.6 194.7 L624.1 195.5 L624.5 194.4 L625.0 196.2 L625.4 195.0 L625.9 195.0" fill="none" stroke="#000000" stroke-width="1.80" stroke-linejoin="round"/>
<path d="M350.5 71.7 L351.6 70.8 L351.5 75.0 L351.4 76.2 L353.6 78.1 L352.5 87.6 L351.9 87.7 L353.4 83.9 L354.6 91.3 L353.5 90.6 L355.8 96.2 L356.2 95.3 L358.0 96.2 L355.8 98.3 L357.5 100.1 L355.7 100.5 L357.3 101.2 L358.3 102.5 L359.0 104.9 L359.0 102.0 L359.4 105.5 L359.4 106.1 L360.0 106.2 L361.2 110.0 L361.9 106.1 L362.4 109.2 L363.2 108.8 L363.8 112.6 L361.4 110.8 L363.1 112.5 L363.9 113.8 L363.9 109.6 L365.9 114.9 L366.0 112.6 L365.7 114.2 L366.4 115.0 L367.8 117.6 L366.9 117.8 L367.4 120.5 L368.8 117.1 L368.9 115.9 L370.1 116.1 L369.7 119.1 L370.4 121.6 L369.9 119.0 L370.1 117.1 L371.2 119.4 L369.8 119.6 L372.4 119.3 L373.2 117.8 L373.1 113.9 L373.3 118.8 L374.6 122.8 L374.3 121.1 L375.4 115.7 L376.6 121.2 L376.2 117.2 L376.7 126.5 L376.9 122.6 L377.2 119.6 L377.7 124.6 L378.0 121.2 L379.0 124.7 L378.0 123.7 L379.2 121.3 L380.1 125.9 L379.8 121.5 L380.6 128.0 L380.8 125.3 L381.8 123.0 L382.4 121.5 L383.1 129.7 L383.1 129.6 L383.1 123.6 L383.9 130.6 L384.5 127.4 L385.3 126.8 L384.4 127.4 L385.7 127.1 L385.4 131.2 L386.8 128.4 L387.1 123.9 L387.6 133.3 L388.1 130.6 L388.4 126.2 L388.6 128.1 L389.3 127.0 L390.0 129.4 L390.1 130.3 L390.6 130.1 L390.7 128.2 L391.7 127.9 L391.8 131.8 L392.2 129.7 L392.7 135.3 L393.1 128.3 L393.7 132.1 L394.3 130.5 L394.7 128.7 L395.2 133.8 L395.7 130.6 L395.9 127.9 L396.4 129.0 L397.0 131.9 L397.5 126.4 L397.7 132.2 L398.1 130.3 L398.7 127.8 L399.1 131.3 L399.5 132.0 L400.0 129.0 L400.4 127.6 L400.9 131.0 L401.3 129.8 L401.8 123.7 L402.2 124.9 L402.7 124.5 L403.1 123.6 L403.6 120.6 L404.0 125.7 L404.5 123.4 L404.9 123.0 L405.4 125.9 L405.8 121.2 L406.3 122.3 L406.7 122.9 L407.2 121.2 L407.6 121.8 L408.1 123.8 L408.5 121.8 L409.0 124.9 L409.4 119.9 L409.9 122.0 L410.3 118.1 L410.8 121.0 L411.2 119.5 L411.7 124.3 L412.1 122.7 L412.6 122.0 L413.0 125.0 L413.5 124.0 L413.9 122.2 L414.4 118.7 L414.8 116.8 L415.3 120.0 L415.7 119.1 L416.2 118.3 L416.6 118.9 L417.1 115.8 L417.5 123.8 L418.0 118.3 L418.4 120.0 L418.9 123.6 L419.3 119.1 L419.8 125.8 L420.2 126.3 L420.7 123.7 L421.1 122.2 L421.6 124.0 L422.0 121.1 L422.5 129.0 L422.9 126.2 L423.4 124.7 L423.8 124.7 L424.3 128.4 L424.7 130.8 L425.2 125.1 L425.6 127.5 L426.1 125.6 L426.5 131.9 L427.0 131.6 L427.4 137.7 L427.9 133.7 L428.3 134.4 L428.8 135.3 L429.2 140.1 L429.7 136.0 L430.1 142.7 L430.6 143.0 L431.0 142.6 L431.5 142.0 L431.9 146.4 L432.4 148.4 L432.8 143.6 L433.3 145.9 L433.7 148.7 L434.2 143.8 L434.6 144.8 L435.1 143.0 L435.5 145.5 L436.0 145.9 L436.4 145.5 L436.9 145.1 L437.3 143.7 L437.8 144.4 L438.2 145.5 L438.7 149.1 L439.1 147.0 L439.6 146.6 L440.0 150.0 L440.5 150.1 L440.9 147.7 L441.4 148.2 L441.8 151.1 L442.3 150.8 L442.7 148.7 L443.2 151.1 L443.6 150.9 L444.1 153.4 L444.5 149.8 L445.0 153.5 L445.4 152.9 L445.9 150.4 L446.3 154.7 L446.8 154.7 L447.2 150.7 L447.7 157.4 L448.1 151.7 L448.6 152.4 L449.0 153.9 L449.5 156.2 L449.9 156.2 L450.4 155.1 L450.8 158.1 L451.3 156.5 L451.7 158.6 L452.2 161.5 L452.6 156.8 L453.1 152.0 L453.5 156.1 L454.0 155.2 L454.4 157.6 L454.9 157.8 L455.3 155.7 L455.8 156.2 L456.2 158.1 L456.7 158.5 L457.1 154.5 L457.6 161.1 L458.0 159.8 L458.5 160.0 L458.9 160.8 L459.4 158.8 L459.8 160.8 L460.3 162.9 L460.7 163.1 L461.2 162.2 L461.6 161.1 L462.1 160.4 L462.5 164.2 L463.0 163.0 L463.4 161.5 L463.9 158.8 L464.3 161.1 L464.8 159.5 L465.2 164.9 L465.7 163.3 L466.1 161.9 L466.6 162.7 L467.0 167.5 L467.5 165.4 L467.9 161.3 L468.4 163.4 L468.8 161.8 L469.3 161.1 L469.7 164.2 L470.2 167.8 L470.6 166.5 L471.1 164.1 L471.5 163.4 L472.0 164.3 L472.4 165.6 L472.9 161.7 L473.3 161.1 L473.8 166.9 L474.2 164.4 L474.7 166.4 L475.1 164.3 L475.6 166.1 L476.0 162.8 L476.5 164.4 L476.9 165.8 L477.4 164.9 L477.8 162.6 L478.3 164.5 L478.7 162.1 L479.2 160.9 L479.6 163.6 L480.1 164.8 L480.5 163.9 L481.0 160.8 L481.4 163.7 L481.9 163.3 L482.3 161.6 L482.8 158.7 L483.2 163.4 L483.7 163.1 L484.1 162.5 L484.6 159.3 L485.0 159.6 L485.5 163.2 L485.9 163.1 L486.4 162.9 L486.8 162.2 L487.3 163.2 L487.7 162.2 L488.2 162.7 L488.6 162.2 L489.1 163.9 L489.5 163.3 L490.0 165.2 L490.4 165.0 L490.9 163.2 L491.3 166.6 L491.8 163.0 L492.2 165.1 L492.7 166.0 L493.1 166.3 L493.6 162.2 L494.0 166.2 L494.5 166.5 L494.9 166.9 L495.4 162.7 L495.8 164.6 L496.3 165.4 L496.7 165.1 L497.2 167.3 L497.6 165.1 L498.1 167.4 L498.5 166.8 L499.0 164.6 L499.4 165.3 L499.9 166.0 L500.3 166.7 L500.8 167.8 L501.2 166.6 L501.7 167.9 L502.1 165.3 L502.6 163.9 L503.0 166.9 L503.5 167.8 L503.9 167.1 L504.4 166.5 L504.8 168.1 L505.3 169.7 L505.7 167.7 L506.2 167.1 L506.6 167.0 L507.1 169.8 L507.5 167.9 L508.0 168.6 L508.4 169.2 L508.9 169.1 L509.3 167.3 L509.8 169.1 L510.2 169.0 L510.7 168.6 L511.1 169.1 L511.6 167.7 L512.0 168.1 L512.5 167.7 L512.9 168.9 L513.4 167.6 L513.8 168.5 L514.3 167.3 L514.7 168.1 L515.2 167.7 L515.6 167.6 L516.1 167.4 L516.5 166.8 L517.0 166.4 L517.4 164.5 L517.9 166.7 L518.3 165.4 L518.8 166.0 L519.2 165.8 L519.7 167.5 L520.1 166.4 L520.6 167.7 L521.0 168.5 L521.5 169.1 L521.9 169.1 L522.4 169.0 L522.8 168.0 L523.3 170.2 L523.7 170.5 L524.2 170.6 L524.6 170.9 L525.1 170.7 L525.5 170.5 L526.0 171.9 L526.4 172.3 L526.9 170.7 L527.3 172.4 L527.8 172.1 L528.2 172.8 L528.7 172.6 L529.1 173.4 L529.6 173.6 L530.0 173.7 L530.5 172.0 L530.9 173.6 L531.4 173.0 L531.8 172.2 L532.3 173.5 L532.7 172.0 L533.2 173.7 L533.6 174.3 L534.1 172.6 L534.5 173.7 L535.0 173.3 L535.4 173.5 L535.9 172.0 L536.3 173.5 L536.8 173.1 L537.2 173.6 L537.7 173.0 L538.1 173.8 L538.6 173.2 L539.0 173.5 L539.5 174.0 L539.9 173.2 L540.4 173.8 L540.8 173.3 L541.3 173.6 L541.7 172.9 L542.2 173.9 L542.6 174.3 L543.1 173.4 L543.5 174.1 L544.0 173.9 L544.4 172.8 L544.9 173.9 L545.3 174.7 L545.8 173.4 L546.2 172.5 L546.7 174.0 L547.1 173.5 L547.6 175.4 L548.0 174.0 L548.5 174.1 L548.9 173.7 L549.4 174.4 L549.8 173.9 L550.3 173.7 L550.7 174.4 L551.2 173.9 L551.6 175.5 L552.1 173.7 L552.5 174.6 L553.0 174.2 L553.4 173.7 L553.9 176.0 L554.3 173.3 L554.8 176.0 L555.2 173.9 L555.7 175.1 L556.1 176.7 L556.6 173.6 L557.0 174.2 L557.5 176.2 L557.9 175.4 L558.4 174.9 L558.8 175.4 L559.3 174.7 L559.7 175.6 L560.2 176.6 L560.6 175.2 L561.1 175.6 L561.5 176.4 L562.0 177.0 L562.4 175.1 L562.9 175.7 L563.3 175.1 L563.8 175.1 L564.2 175.2 L564.7 175.1 L565.1 174.3 L565.6 174.1 L566.0 175.0 L566.5 175.6 L566.9 176.4 L567.4 175.1 L567.8 175.4 L568.3 176.0 L568.7 176.1 L569.2 175.4 L569.6 175.5 L570.1 176.9 L570.5 175.4 L571.0 175.3 L571.4 174.5 L571.9 176.1 L572.3 175.6 L572.8 177.3 L573.2 175.7 L573.7 176.6 L574.1 176.8 L574.6 177.3 L575.0 175.2 L575.5 177.4 L575.9 176.3 L576.4 176.3 L576.8 176.2 L577.3 176.2 L577.7 176.3 L578.2 174.9 L578.6 177.0 L579.1 176.8 L579.5 176.1 L580.0 176.8 L580.4 178.5 L580.9 177.1 L581.3 176.5 L581.8 178.1 L582.2 176.2 L582.7 176.7 L583.1 176.4 L583.6 176.7 L584.0 177.4 L584.5 177.3 L584.9 176.3 L585.4 176.7 L585.8 176.9 L586.3 176.5 L586.7 176.8 L587.2 176.3 L587.6 176.3 L588.1 176.9 L588.5 176.1 L589.0 177.1 L589.4 176.7 L589.9 176.2 L590.3 176.4 L590.8 176.6 L591.2 176.9 L591.7 177.1 L592.1 176.9 L592.6 176.5 L593.0 178.2 L593.5 177.9 L593.9 177.4 L594.4 178.0 L594.8 177.6 L595.3 177.3 L595.7 177.6 L596.2 179.5 L596.6 178.3 L597.1 178.4 L597.5 177.4 L598.0 178.2 L598.4 179.5 L598.9 178.2 L599.3 178.7 L599.8 178.9 L600.2 178.5 L600.7 179.3 L601.1 178.3 L601.6 178.6 L602.0 177.8 L602.5 180.3 L602.9 178.6 L603.4 178.5 L603.8 179.5 L604.3 178.2 L604.7 178.6 L605.2 178.1 L605.6 178.8 L606.1 178.5 L606.5 179.3 L607.0 178.8 L607.4 178.6 L607.9 178.8 L608.3 179.0 L608.8 178.8 L609.2 179.9 L609.7 179.8 L610.1 179.4 L610.6 178.5 L611.0 179.7 L611.5 178.4 L611.9 179.5 L612.4 179.4 L612.8 178.9 L613.3 178.7 L613.7 178.8 L614.2 180.8 L614.6 179.1 L615.1 179.2 L615.5 180.0 L616.0 179.6 L616.4 180.1 L616.9 178.4 L617.3 178.5 L617.8 181.7 L618.2 179.3 L618.7 179.1 L619.1 179.4 L619.6 180.0 L620.0 178.5 L620.5 179.6 L620.9 179.5 L621.4 180.1 L621.8 179.8 L622.3 179.4 L622.7 179.2 L623.2 178.2 L623.6 180.8 L624.1 179.1 L624.5 179.9 L625.0 181.5 L625.4 180.1 L625.9 180.9" fill="none" stroke="#ff0000" stroke-width="1.80" stroke-linejoin="round"/>
<path d="M352.1 45.7 L350.8 50.9 L350.5 56.7 L353.3 56.4 L353.9 52.4 L354.0 58.3 L353.8 59.3 L352.8 60.4 L355.1 59.1 L356.4 62.0 L355.9 61.2 L357.1 65.7 L355.2 65.8 L357.4 63.2 L357.8 63.4 L355.8 67.5 L356.1 71.4 L357.5 72.1 L358.7 71.9 L359.5 65.0 L359.3 73.3 L359.9 73.9 L360.3 75.9 L361.0 74.5 L361.9 77.4 L362.3 77.7 L362.2 86.9 L363.0 82.3 L362.7 80.5 L364.4 81.3 L363.6 81.6 L366.0 82.8 L364.9 81.8 L365.6 83.3 L365.2 86.4 L366.0 86.5 L366.9 85.7 L367.2 88.9 L367.1 86.6 L367.1 84.2 L368.6 82.8 L369.1 86.0 L369.9 88.1 L370.9 89.8 L370.1 92.1 L369.3 88.5 L371.1 88.5 L370.3 93.0 L371.2 94.5 L373.3 90.9 L373.4 93.5 L373.0 96.5 L373.5 94.2 L374.3 93.6 L373.7 88.8 L375.6 97.7 L375.5 96.3 L377.3 95.3 L376.0 94.2 L377.7 92.6 L377.1 95.8 L378.6 96.1 L377.9 99.4 L379.3 93.9 L379.1 100.8 L379.3 97.5 L380.2 100.7 L380.9 95.6 L381.3 99.1 L382.3 101.6 L382.4 99.1 L381.3 95.7 L382.7 99.2 L382.5 102.0 L383.7 97.8 L384.5 98.3 L384.2 103.1 L384.7 100.5 L385.7 104.7 L386.0 100.1 L387.1 98.4 L387.1 101.1 L387.6 106.9 L388.4 101.0 L388.2 103.2 L388.8 103.9 L388.9 100.9 L389.7 106.1 L390.4 103.9 L390.9 104.6 L391.0 99.4 L391.3 99.3 L391.7 96.9 L392.1 103.4 L392.8 103.4 L393.5 105.9 L393.3 107.9 L393.8 103.6 L394.8 103.7 L394.8 105.5 L395.5 108.2 L395.8 102.3 L396.5 106.0 L396.9 103.8 L397.3 103.6 L397.8 106.4 L398.2 102.4 L398.7 101.7 L399.1 106.1 L399.6 104.3 L400.0 103.7 L400.4 103.8 L400.9 105.2 L401.3 102.8 L401.8 105.4 L402.2 104.3 L402.7 106.8 L403.1 106.0 L403.6 104.8 L404.0 101.9 L404.5 102.5 L404.9 100.5 L405.4 108.7 L405.8 100.6 L406.3 102.1 L406.7 103.7 L407.2 96.5 L407.6 97.5 L408.1 98.1 L408.5 96.2 L409.0 95.1 L409.4 96.6 L409.9 100.7 L410.3 99.0 L410.8 97.0 L411.2 96.7 L411.7 92.2 L412.1 97.8 L412.6 96.9 L413.0 92.8 L413.5 95.7 L413.9 94.5 L414.4 93.8 L414.8 92.9 L415.3 93.9 L415.7 93.4 L416.2 97.2 L416.6 97.2 L417.1 97.3 L417.5 96.2 L418.0 95.9 L418.4 102.6 L418.9 93.4 L419.3 101.6 L419.8 100.1 L420.2 99.8 L420.7 98.8 L421.1 100.0 L421.6 98.1 L422.0 98.0 L422.5 101.6 L422.9 98.3 L423.4 104.8 L423.8 105.9 L424.3 95.3 L424.7 100.3 L425.2 105.4 L425.6 106.3 L426.1 107.0 L426.5 108.7 L427.0 110.5 L427.4 111.8 L427.9 114.9 L428.3 112.0 L428.8 115.4 L429.2 110.9 L429.7 115.7 L430.1 114.2 L430.6 120.6 L431.0 123.2 L431.5 119.4 L431.9 115.5 L432.4 118.6 L432.8 119.3 L433.3 120.0 L433.7 122.4 L434.2 122.5 L434.6 114.7 L435.1 124.1 L435.5 120.2 L436.0 120.4 L436.4 125.0 L436.9 121.6 L437.3 119.5 L437.8 119.9 L438.2 123.2 L438.7 125.4 L439.1 126.9 L439.6 123.6 L440.0 123.3 L440.5 128.0 L440.9 123.8 L441.4 128.1 L441.8 125.7 L442.3 125.9 L442.7 125.2 L443.2 126.5 L443.6 125.2 L444.1 125.0 L444.5 126.3 L445.0 125.5 L445.4 127.7 L445.9 127.5 L446.3 127.0 L446.8 127.3 L447.2 127.5 L447.7 131.7 L448.1 128.3 L448.6 127.4 L449.0 128.2 L449.5 130.3 L449.9 128.8 L450.4 129.2 L450.8 129.2 L451.3 130.2 L451.7 130.9 L452.2 131.2 L452.6 127.4 L453.1 128.8 L453.5 126.0 L454.0 132.8 L454.4 133.6 L454.9 134.2 L455.3 132.2 L455.8 134.2 L456.2 132.1 L456.7 132.1 L457.1 129.7 L457.6 131.3 L458.0 131.8 L458.5 134.7 L458.9 136.2 L459.4 132.5 L459.8 134.2 L460.3 134.2 L460.7 132.5 L461.2 131.0 L461.6 132.9 L462.1 131.8 L462.5 134.0 L463.0 134.4 L463.4 134.6 L463.9 134.7 L464.3 136.0 L464.8 133.8 L465.2 137.0 L465.7 132.7 L466.1 135.7 L466.6 136.3 L467.0 134.3 L467.5 133.0 L467.9 136.8 L468.4 134.7 L468.8 137.1 L469.3 137.1 L469.7 135.9 L470.2 135.9 L470.6 137.5 L471.1 136.4 L471.5 134.3 L472.0 136.0 L472.4 136.6 L472.9 136.0 L473.3 135.9 L473.8 135.3 L474.2 135.3 L474.7 134.0 L475.1 133.2 L475.6 136.9 L476.0 134.0 L476.5 135.0 L476.9 132.2 L477.4 134.5 L477.8 132.8 L478.3 138.2 L478.7 132.1 L479.2 132.0 L479.6 134.5 L480.1 134.6 L480.5 129.8 L481.0 133.1 L481.4 133.9 L481.9 130.9 L482.3 133.4 L482.8 131.7 L483.2 130.9 L483.7 131.7 L484.1 131.5 L484.6 130.1 L485.0 135.0 L485.5 131.6 L485.9 131.5 L486.4 133.9 L486.8 132.9 L487.3 135.0 L487.7 133.2 L488.2 134.2 L488.6 134.1 L489.1 134.5 L489.5 134.2 L490.0 134.6 L490.4 137.0 L490.9 134.1 L491.3 134.4 L491.8 134.8 L492.2 136.0 L492.7 135.9 L493.1 136.7 L493.6 134.0 L494.0 136.0 L494.5 135.6 L494.9 135.6 L495.4 136.3 L495.8 133.9 L496.3 136.6 L496.7 136.6 L497.2 134.9 L497.6 136.5 L498.1 138.5 L498.5 136.4 L499.0 137.6 L499.4 136.8 L499.9 136.3 L500.3 136.3 L500.8 136.9 L501.2 138.9 L501.7 138.4 L502.1 136.9 L502.6 138.8 L503.0 137.8 L503.5 137.3 L503.9 138.6 L504.4 137.3 L504.8 136.8 L505.3 139.7 L505.7 136.6 L506.2 138.9 L506.6 136.9 L507.1 138.4 L507.5 138.2 L508.0 138.0 L508.4 136.4 L508.9 138.3 L509.3 138.4 L509.8 137.6 L510.2 138.4 L510.7 139.3 L511.1 137.6 L511.6 138.4 L512.0 137.1 L512.5 138.4 L512.9 138.6 L513.4 140.1 L513.8 138.6 L514.3 138.2 L514.7 138.9 L515.2 136.8 L515.6 138.4 L516.1 137.0 L516.5 136.8 L517.0 138.1 L517.4 137.3 L517.9 138.0 L518.3 135.8 L518.8 137.0 L519.2 136.3 L519.7 136.4 L520.1 135.1 L520.6 137.5 L521.0 137.1 L521.5 136.5 L521.9 136.4 L522.4 137.0 L522.8 138.9 L523.3 138.0 L523.7 138.0 L524.2 138.9 L524.6 138.7 L525.1 139.1 L525.5 139.7 L526.0 139.6 L526.4 140.2 L526.9 138.9 L527.3 140.1 L527.8 140.0 L528.2 140.5 L528.7 140.6 L529.1 140.4 L529.6 140.8 L530.0 142.0 L530.5 140.9 L530.9 140.5 L531.4 141.9 L531.8 142.2 L532.3 141.4 L532.7 141.7 L533.2 141.1 L533.6 141.6 L534.1 142.6 L534.5 142.5 L535.0 142.1 L535.4 141.8 L535.9 140.9 L536.3 142.4 L536.8 142.5 L537.2 143.0 L537.7 143.8 L538.1 142.6 L538.6 143.1 L539.0 141.7 L539.5 143.4 L539.9 143.2 L540.4 143.6 L540.8 143.2 L541.3 143.1 L541.7 143.9 L542.2 142.4 L542.6 143.4 L543.1 143.8 L543.5 142.5 L544.0 142.2 L544.4 143.5 L544.9 143.3 L545.3 143.7 L545.8 143.8 L546.2 142.8 L546.7 143.7 L547.1 144.3 L547.6 143.3 L548.0 143.4 L548.5 142.8 L548.9 144.3 L549.4 145.2 L549.8 142.8 L550.3 144.4 L550.7 144.5 L551.2 143.4 L551.6 143.6 L552.1 143.1 L552.5 143.3 L553.0 144.0 L553.4 144.4 L553.9 144.0 L554.3 144.5 L554.8 144.1 L555.2 143.1 L555.7 145.0 L556.1 144.8 L556.6 143.4 L557.0 145.2 L557.5 144.3 L557.9 144.1 L558.4 145.4 L558.8 142.2 L559.3 142.8 L559.7 144.5 L560.2 143.9 L560.6 143.4 L561.1 145.3 L561.5 144.6 L562.0 143.3 L562.4 143.9 L562.9 145.0 L563.3 145.8 L563.8 143.0 L564.2 144.8 L564.7 144.4 L565.1 143.4 L565.6 144.6 L566.0 143.6 L566.5 144.5 L566.9 146.1 L567.4 145.4 L567.8 145.6 L568.3 145.5 L568.7 145.4 L569.2 145.9 L569.6 144.4 L570.1 145.1 L570.5 145.9 L571.0 144.8 L571.4 145.0 L571.9 146.2 L572.3 146.4 L572.8 144.8 L573.2 144.7 L573.7 145.7 L574.1 145.4 L574.6 144.7 L575.0 145.7 L575.5 145.6 L575.9 145.3 L576.4 147.4 L576.8 146.2 L577.3 145.8 L577.7 145.9 L578.2 147.3 L578.6 146.0 L579.1 144.6 L579.5 145.4 L580.0 145.2 L580.4 144.8 L580.9 145.4 L581.3 145.5 L581.8 145.3 L582.2 145.0 L582.7 146.1 L583.1 144.3 L583.6 146.2 L584.0 145.6 L584.5 145.9 L584.9 144.0 L585.4 147.0 L585.8 144.6 L586.3 145.3 L586.7 146.4 L587.2 145.6 L587.6 145.8 L588.1 144.5 L588.5 145.8 L589.0 146.4 L589.4 146.8 L589.9 146.1 L590.3 146.5 L590.8 146.8 L591.2 146.0 L591.7 146.0 L592.1 148.1 L592.6 146.0 L593.0 147.6 L593.5 146.8 L593.9 147.9 L594.4 146.4 L594.8 147.3 L595.3 147.3 L595.7 146.9 L596.2 147.4 L596.6 146.6 L597.1 147.2 L597.5 147.0 L598.0 147.9 L598.4 147.4 L598.9 146.5 L599.3 147.3 L599.8 147.5 L600.2 147.0 L600.7 148.7 L601.1 148.1 L601.6 148.4 L602.0 147.3 L602.5 147.6 L602.9 148.7 L603.4 147.0 L603.8 148.4 L604.3 148.2 L604.7 147.8 L605.2 148.3 L605.6 147.5 L606.1 148.5 L606.5 147.5 L607.0 147.5 L607.4 149.6 L607.9 148.1 L608.3 147.1 L608.8 149.4 L609.2 148.2 L609.7 146.2 L610.1 148.8 L610.6 149.6 L611.0 149.2 L611.5 150.3 L611.9 149.0 L612.4 149.6 L612.8 148.4 L613.3 149.4 L613.7 150.4 L614.2 149.7 L614.6 149.5 L615.1 148.0 L615.5 149.2 L616.0 148.6 L616.4 150.2 L616.9 149.1 L617.3 150.0 L617.8 149.0 L618.2 151.2 L618.7 149.0 L619.1 150.0 L619.6 151.9 L620.0 150.2 L620.5 149.4 L620.9 150.5 L621.4 150.8 L621.8 150.7 L622.3 148.6 L622.7 150.2 L623.2 148.5 L623.6 151.4 L624.1 150.1 L624.5 149.7 L625.0 150.5 L625.4 150.4 L625.9 149.2" fill="none" stroke="#00e600" stroke-width="1.80" stroke-linejoin="round"/>
<path d="M350.5 19.6 L352.4 25.3 L351.5 25.6 L351.2 23.5 L351.4 24.7 L352.7 22.9 L354.3 27.4 L353.1 30.7 L353.1 31.9 L355.5 31.7 L355.1 33.1 L355.5 30.5 L358.1 31.9 L355.1 37.4 L357.0 36.5 L355.5 34.7 L357.4 40.0 L358.8 42.8 L359.8 44.4 L357.8 44.7 L360.4 45.1 L360.8 49.4 L360.3 54.2 L363.4 51.6 L361.3 50.4 L360.9 53.7 L362.7 50.3 L360.8 54.7 L364.7 54.1 L364.6 58.1 L363.7 56.6 L365.1 59.9 L365.4 63.9 L367.2 57.8 L365.3 56.7 L365.1 60.5 L364.9 59.5 L366.9 60.7 L366.3 59.6 L367.9 63.5 L368.9 63.1 L368.6 58.1 L368.7 63.5 L370.9 65.2 L370.2 67.7 L371.0 63.4 L372.0 63.1 L370.7 68.6 L371.4 64.4 L374.4 66.7 L372.9 68.0 L372.7 69.1 L373.7 67.6 L374.0 65.1 L374.0 71.0 L375.0 67.6 L375.7 67.6 L376.2 74.3 L377.0 71.6 L376.0 66.8 L376.6 68.6 L378.4 69.4 L378.2 68.3 L379.6 65.5 L379.5 72.8 L379.0 72.9 L380.5 71.7 L380.1 70.0 L381.3 71.6 L382.2 72.7 L383.0 68.3 L382.4 70.2 L383.2 69.6 L383.5 72.9 L384.2 71.7 L383.2 67.7 L384.6 69.4 L385.3 75.6 L385.8 68.4 L385.8 71.1 L386.8 69.0 L387.4 73.7 L387.4 70.2 L387.8 69.1 L388.2 67.1 L388.8 69.4 L389.6 72.0 L390.1 71.5 L390.0 66.2 L390.3 73.6 L390.8 68.8 L391.7 66.6 L392.0 69.5 L392.4 67.5 L392.9 67.5 L393.3 67.2 L393.7 68.5 L394.0 67.3 L394.5 64.1 L395.1 69.8 L395.6 66.9 L395.9 71.2 L396.4 69.3 L397.0 69.3 L397.3 68.0 L397.8 70.7 L398.2 66.4 L398.6 64.5 L399.1 67.8 L399.5 59.7 L400.0 65.6 L400.4 67.2 L400.9 65.6 L401.3 70.0 L401.8 68.7 L402.2 67.3 L402.7 66.0 L403.1 70.0 L403.6 65.5 L404.0 66.3 L404.5 69.4 L404.9 69.1 L405.4 73.0 L405.8 67.5 L406.3 63.5 L406.7 70.3 L407.2 72.2 L407.6 68.8 L408.1 73.5 L408.5 74.4 L409.0 68.4 L409.4 69.1 L409.9 67.4 L410.3 72.4 L410.8 73.2 L411.2 73.2 L411.7 68.8 L412.1 70.3 L412.6 68.9 L413.0 68.8 L413.5 69.8 L413.9 69.6 L414.4 73.5 L414.8 75.4 L415.3 76.2 L415.7 74.7 L416.2 73.3 L416.6 75.2 L417.1 76.9 L417.5 74.9 L418.0 76.0 L418.4 75.3 L418.9 74.9 L419.3 76.6 L419.8 73.8 L420.2 79.6 L420.7 73.1 L421.1 78.6 L421.6 74.1 L422.0 81.7 L422.5 80.3 L422.9 76.2 L423.4 77.4 L423.8 75.9 L424.3 78.8 L424.7 80.2 L425.2 85.8 L425.6 76.5 L426.1 83.4 L426.5 79.4 L427.0 81.9 L427.4 83.8 L427.9 83.4 L428.3 83.5 L428.8 82.5 L429.2 83.4 L429.7 84.2 L430.1 87.1 L430.6 81.2 L431.0 84.0 L431.5 82.6 L431.9 83.7 L432.4 84.6 L432.8 89.5 L433.3 92.3 L433.7 90.9 L434.2 85.5 L434.6 88.8 L435.1 86.5 L435.5 90.4 L436.0 92.6 L436.4 91.4 L436.9 92.4 L437.3 90.4 L437.8 86.6 L438.2 87.0 L438.7 91.5 L439.1 93.3 L439.6 95.2 L440.0 92.0 L440.5 93.1 L440.9 93.7 L441.4 95.7 L441.8 93.4 L442.3 91.4 L442.7 96.4 L443.2 95.1 L443.6 95.3 L444.1 92.0 L444.5 94.9 L445.0 91.5 L445.4 91.2 L445.9 95.3 L446.3 95.2 L446.8 97.6 L447.2 99.8 L447.7 97.0 L448.1 101.1 L448.6 96.6 L449.0 99.7 L449.5 95.8 L449.9 99.0 L450.4 98.5 L450.8 99.1 L451.3 101.1 L451.7 96.5 L452.2 100.9 L452.6 99.4 L453.1 101.6 L453.5 102.6 L454.0 101.4 L454.4 101.8 L454.9 100.7 L455.3 104.2 L455.8 102.1 L456.2 104.5 L456.7 101.1 L457.1 106.7 L457.6 102.4 L458.0 106.7 L458.5 103.9 L458.9 106.0 L459.4 104.9 L459.8 106.7 L460.3 105.6 L460.7 108.1 L461.2 107.1 L461.6 107.2 L462.1 109.1 L462.5 105.0 L463.0 108.7 L463.4 106.7 L463.9 104.0 L464.3 107.7 L464.8 106.6 L465.2 110.0 L465.7 106.3 L466.1 107.4 L466.6 107.8 L467.0 104.3 L467.5 108.5 L467.9 106.1 L468.4 110.3 L468.8 110.8 L469.3 108.1 L469.7 105.6 L470.2 108.6 L470.6 108.7 L471.1 109.8 L471.5 108.2 L472.0 106.8 L472.4 108.7 L472.9 107.5 L473.3 112.0 L473.8 108.1 L474.2 108.3 L474.7 109.4 L475.1 107.6 L475.6 108.9 L476.0 109.5 L476.5 109.0 L476.9 109.5 L477.4 111.9 L477.8 110.7 L478.3 108.1 L478.7 109.6 L479.2 111.5 L479.6 109.5 L480.1 110.6 L480.5 110.6 L481.0 111.5 L481.4 110.5 L481.9 110.7 L482.3 109.7 L482.8 111.6 L483.2 109.8 L483.7 113.7 L484.1 111.3 L484.6 111.1 L485.0 112.6 L485.5 111.5 L485.9 111.8 L486.4 111.7 L486.8 110.9 L487.3 110.7 L487.7 111.1 L488.2 113.7 L488.6 111.4 L489.1 111.8 L489.5 111.8 L490.0 113.4 L490.4 115.2 L490.9 111.5 L491.3 113.5 L491.8 113.0 L492.2 112.6 L492.7 113.7 L493.1 111.5 L493.6 114.3 L494.0 113.6 L494.5 112.2 L494.9 115.4 L495.4 114.7 L495.8 115.2 L496.3 112.3 L496.7 113.8 L497.2 113.7 L497.6 115.2 L498.1 116.2 L498.5 112.7 L499.0 115.0 L499.4 115.0 L499.9 116.5 L500.3 115.4 L500.8 114.2 L501.2 115.5 L501.7 114.7 L502.1 115.1 L502.6 116.1 L503.0 115.6 L503.5 116.5 L503.9 114.7 L504.4 118.9 L504.8 117.9 L505.3 117.4 L505.7 115.4 L506.2 114.6 L506.6 116.0 L507.1 116.7 L507.5 119.3 L508.0 118.4 L508.4 116.7 L508.9 118.5 L509.3 118.6 L509.8 117.5 L510.2 118.6 L510.7 117.7 L511.1 116.8 L511.6 116.3 L512.0 117.2 L512.5 118.1 L512.9 116.0 L513.4 115.7 L513.8 117.6 L514.3 114.7 L514.7 118.6 L515.2 116.7 L515.6 117.8 L516.1 118.8 L516.5 116.2 L517.0 116.6 L517.4 119.4 L517.9 117.5 L518.3 117.7 L518.8 118.1 L519.2 118.8 L519.7 119.2 L520.1 118.3 L520.6 117.9 L521.0 118.2 L521.5 118.4 L521.9 119.2 L522.4 118.3 L522.8 119.6 L523.3 117.5 L523.7 118.6 L524.2 119.5 L524.6 119.2 L525.1 118.5 L525.5 117.5 L526.0 117.7 L526.4 118.1 L526.9 118.4 L527.3 118.0 L527.8 117.1 L528.2 117.6 L528.7 118.6 L529.1 118.8 L529.6 117.1 L530.0 117.9 L530.5 116.9 L530.9 117.8 L531.4 120.9 L531.8 118.2 L532.3 117.9 L532.7 117.7 L533.2 117.3 L533.6 116.8 L534.1 118.2 L534.5 118.0 L535.0 119.3 L535.4 116.9 L535.9 118.5 L536.3 119.2 L536.8 116.7 L537.2 118.7 L537.7 117.0 L538.1 118.6 L538.6 119.3 L539.0 118.2 L539.5 118.4 L539.9 117.7 L540.4 118.5 L540.8 119.2 L541.3 118.2 L541.7 118.3 L542.2 118.8 L542.6 119.1 L543.1 117.3 L543.5 118.7 L544.0 118.2 L544.4 119.1 L544.9 119.6 L545.3 119.1 L545.8 119.9 L546.2 118.2 L546.7 118.7 L547.1 118.3 L547.6 119.2 L548.0 119.2 L548.5 119.1 L548.9 118.3 L549.4 119.3 L549.8 119.0 L550.3 119.9 L550.7 119.2 L551.2 120.3 L551.6 119.6 L552.1 118.0 L552.5 119.3 L553.0 118.3 L553.4 120.1 L553.9 120.5 L554.3 119.4 L554.8 119.7 L555.2 118.3 L555.7 117.7 L556.1 119.0 L556.6 119.2 L557.0 118.2 L557.5 119.5 L557.9 119.6 L558.4 119.9 L558.8 120.6 L559.3 120.0 L559.7 119.1 L560.2 119.5 L560.6 119.9 L561.1 118.7 L561.5 120.6 L562.0 120.4 L562.4 119.5 L562.9 119.3 L563.3 122.8 L563.8 120.5 L564.2 120.7 L564.7 121.4 L565.1 120.8 L565.6 120.3 L566.0 120.7 L566.5 119.5 L566.9 120.9 L567.4 119.2 L567.8 120.7 L568.3 120.9 L568.7 119.3 L569.2 122.1 L569.6 119.8 L570.1 121.5 L570.5 120.4 L571.0 121.2 L571.4 120.6 L571.9 123.1 L572.3 122.1 L572.8 122.8 L573.2 122.1 L573.7 122.2 L574.1 121.9 L574.6 121.7 L575.0 122.4 L575.5 122.2 L575.9 122.1 L576.4 121.3 L576.8 122.2 L577.3 123.0 L577.7 122.3 L578.2 123.0 L578.6 122.8 L579.1 122.2 L579.5 122.4 L580.0 122.6 L580.4 123.0 L580.9 123.1 L581.3 124.2 L581.8 122.6 L582.2 121.9 L582.7 124.1 L583.1 123.2 L583.6 123.6 L584.0 125.7 L584.5 124.9 L584.9 124.3 L585.4 124.6 L585.8 124.0 L586.3 124.7 L586.7 123.6 L587.2 123.5 L587.6 123.8 L588.1 125.4 L588.5 125.4 L589.0 123.8 L589.4 125.2 L589.9 124.3 L590.3 125.2 L590.8 124.2 L591.2 125.2 L591.7 124.3 L592.1 124.2 L592.6 124.4 L593.0 124.5 L593.5 124.0 L593.9 123.4 L594.4 125.7 L594.8 124.1 L595.3 123.0 L595.7 122.7 L596.2 122.3 L596.6 124.0 L597.1 125.5 L597.5 123.2 L598.0 124.2 L598.4 123.0 L598.9 125.3 L599.3 124.7 L599.8 124.7 L600.2 125.5 L600.7 125.7 L601.1 125.2 L601.6 124.0 L602.0 123.4 L602.5 123.6 L602.9 123.1 L603.4 125.8 L603.8 124.3 L604.3 124.5 L604.7 124.6 L605.2 126.0 L605.6 124.0 L606.1 125.3 L606.5 124.7 L607.0 124.3 L607.4 123.0 L607.9 125.1 L608.3 123.9 L608.8 124.1 L609.2 124.6 L609.7 124.5 L610.1 125.3 L610.6 124.0 L611.0 124.7 L611.5 124.8 L611.9 124.7 L612.4 125.2 L612.8 124.6 L613.3 125.8 L613.7 124.3 L614.2 123.8 L614.6 125.0 L615.1 126.0 L615.5 124.7 L616.0 124.7 L616.4 124.9 L616.9 125.4 L617.3 125.2 L617.8 125.6 L618.2 124.1 L618.7 126.6 L619.1 126.0 L619.6 124.9 L620.0 126.7 L620.5 126.1 L620.9 127.0 L621.4 125.0 L621.8 127.3 L622.3 126.1 L622.7 124.6 L623.2 126.9 L623.6 126.1 L624.1 125.7 L624.5 126.4 L625.0 125.1 L625.4 127.2 L625.9 126.6" fill="none" stroke="#0000ff" stroke-width="1.80" stroke-linejoin="round"/>
<rect x="348.6" y="93.9" width="4.2" height="4.2" fill="#fff" stroke="#000000" stroke-width="0.65"/>
<rect x="361.0" y="126.5" width="4.2" height="4.2" fill="#fff" stroke="#000000" stroke-width="0.65"/>
<rect x="373.4" y="137.2" width="4.2" height="4.2" fill="#fff" stroke="#000000" stroke-width="0.65"/>
<rect x="385.9" y="140.7" width="4.2" height="4.2" fill="#fff" stroke="#000000" stroke-width="0.65"/>
<rect x="398.3" y="139.6" width="4.2" height="4.2" fill="#fff" stroke="#000000" stroke-width="0.65"/>
<rect x="410.7" y="144.3" width="4.2" height="4.2" fill="#fff" stroke="#000000" stroke-width="0.65"/>
<rect x="423.1" y="150.4" width="4.2" height="4.2" fill="#fff" stroke="#000000" stroke-width="0.65"/>
<rect x="435.5" y="160.5" width="4.2" height="4.2" fill="#fff" stroke="#000000" stroke-width="0.65"/>
<rect x="448.0" y="169.6" width="4.2" height="4.2" fill="#fff" stroke="#000000" stroke-width="0.65"/>
<rect x="460.4" y="175.6" width="4.2" height="4.2" fill="#fff" stroke="#000000" stroke-width="0.65"/>
<rect x="472.8" y="178.4" width="4.2" height="4.2" fill="#fff" stroke="#000000" stroke-width="0.65"/>
<rect x="485.2" y="179.9" width="4.2" height="4.2" fill="#fff" stroke="#000000" stroke-width="0.65"/>
<rect x="497.6" y="181.4" width="4.2" height="4.2" fill="#fff" stroke="#000000" stroke-width="0.65"/>
<rect x="510.1" y="185.6" width="4.2" height="4.2" fill="#fff" stroke="#000000" stroke-width="0.65"/>
<rect x="522.5" y="185.6" width="4.2" height="4.2" fill="#fff" stroke="#000000" stroke-width="0.65"/>
<rect x="534.9" y="186.4" width="4.2" height="4.2" fill="#fff" stroke="#000000" stroke-width="0.65"/>
<rect x="547.3" y="186.8" width="4.2" height="4.2" fill="#fff" stroke="#000000" stroke-width="0.65"/>
<rect x="559.7" y="187.9" width="4.2" height="4.2" fill="#fff" stroke="#000000" stroke-width="0.65"/>
<rect x="572.2" y="187.7" width="4.2" height="4.2" fill="#fff" stroke="#000000" stroke-width="0.65"/>
<rect x="584.6" y="188.1" width="4.2" height="4.2" fill="#fff" stroke="#000000" stroke-width="0.65"/>
<rect x="597.0" y="190.4" width="4.2" height="4.2" fill="#fff" stroke="#000000" stroke-width="0.65"/>
<rect x="609.4" y="191.8" width="4.2" height="4.2" fill="#fff" stroke="#000000" stroke-width="0.65"/>
<rect x="621.8" y="193.2" width="4.2" height="4.2" fill="#fff" stroke="#000000" stroke-width="0.65"/>
<circle cx="350.7" cy="70.8" r="2.1" fill="#fff" stroke="#ff0000" stroke-width="0.65"/>
<circle cx="363.1" cy="111.9" r="2.1" fill="#fff" stroke="#ff0000" stroke-width="0.65"/>
<circle cx="375.5" cy="121.4" r="2.1" fill="#fff" stroke="#ff0000" stroke-width="0.65"/>
<circle cx="388.0" cy="128.6" r="2.1" fill="#fff" stroke="#ff0000" stroke-width="0.65"/>
<circle cx="400.4" cy="127.2" r="2.1" fill="#fff" stroke="#ff0000" stroke-width="0.65"/>
<circle cx="412.8" cy="120.8" r="2.1" fill="#fff" stroke="#ff0000" stroke-width="0.65"/>
<circle cx="425.2" cy="128.0" r="2.1" fill="#fff" stroke="#ff0000" stroke-width="0.65"/>
<circle cx="437.6" cy="147.1" r="2.1" fill="#fff" stroke="#ff0000" stroke-width="0.65"/>
<circle cx="450.1" cy="155.1" r="2.1" fill="#fff" stroke="#ff0000" stroke-width="0.65"/>
<circle cx="462.5" cy="161.9" r="2.1" fill="#fff" stroke="#ff0000" stroke-width="0.65"/>
<circle cx="474.9" cy="164.0" r="2.1" fill="#fff" stroke="#ff0000" stroke-width="0.65"/>
<circle cx="487.3" cy="162.7" r="2.1" fill="#fff" stroke="#ff0000" stroke-width="0.65"/>
<circle cx="499.7" cy="166.4" r="2.1" fill="#fff" stroke="#ff0000" stroke-width="0.65"/>
<circle cx="512.2" cy="168.2" r="2.1" fill="#fff" stroke="#ff0000" stroke-width="0.65"/>
<circle cx="524.6" cy="170.3" r="2.1" fill="#fff" stroke="#ff0000" stroke-width="0.65"/>
<circle cx="537.0" cy="173.0" r="2.1" fill="#fff" stroke="#ff0000" stroke-width="0.65"/>
<circle cx="549.4" cy="174.2" r="2.1" fill="#fff" stroke="#ff0000" stroke-width="0.65"/>
<circle cx="561.8" cy="175.5" r="2.1" fill="#fff" stroke="#ff0000" stroke-width="0.65"/>
<circle cx="574.3" cy="176.1" r="2.1" fill="#fff" stroke="#ff0000" stroke-width="0.65"/>
<circle cx="586.7" cy="176.8" r="2.1" fill="#fff" stroke="#ff0000" stroke-width="0.65"/>
<circle cx="599.1" cy="177.9" r="2.1" fill="#fff" stroke="#ff0000" stroke-width="0.65"/>
<circle cx="611.5" cy="179.3" r="2.1" fill="#fff" stroke="#ff0000" stroke-width="0.65"/>
<circle cx="623.9" cy="180.1" r="2.1" fill="#fff" stroke="#ff0000" stroke-width="0.65"/>
<path d="M348.6 49.0L352.8 49.0L350.7 45.2Z" fill="#fff" stroke="#00e600" stroke-width="0.65"/>
<path d="M361.0 83.0L365.2 83.0L363.1 79.2Z" fill="#fff" stroke="#00e600" stroke-width="0.65"/>
<path d="M373.4 96.6L377.6 96.6L375.5 92.8Z" fill="#fff" stroke="#00e600" stroke-width="0.65"/>
<path d="M385.9 105.2L390.1 105.2L388.0 101.4Z" fill="#fff" stroke="#00e600" stroke-width="0.65"/>
<path d="M398.3 106.2L402.5 106.2L400.4 102.4Z" fill="#fff" stroke="#00e600" stroke-width="0.65"/>
<path d="M410.7 97.6L414.9 97.6L412.8 93.9Z" fill="#fff" stroke="#00e600" stroke-width="0.65"/>
<path d="M423.1 106.8L427.3 106.8L425.2 103.0Z" fill="#fff" stroke="#00e600" stroke-width="0.65"/>
<path d="M435.5 124.6L439.7 124.6L437.6 120.9Z" fill="#fff" stroke="#00e600" stroke-width="0.65"/>
<path d="M448.0 131.2L452.2 131.2L450.1 127.4Z" fill="#fff" stroke="#00e600" stroke-width="0.65"/>
<path d="M460.4 136.4L464.6 136.4L462.5 132.7Z" fill="#fff" stroke="#00e600" stroke-width="0.65"/>
<path d="M472.8 137.4L477.0 137.4L474.9 133.6Z" fill="#fff" stroke="#00e600" stroke-width="0.65"/>
<path d="M485.2 135.2L489.4 135.2L487.3 131.4Z" fill="#fff" stroke="#00e600" stroke-width="0.65"/>
<path d="M497.6 139.0L501.8 139.0L499.7 135.2Z" fill="#fff" stroke="#00e600" stroke-width="0.65"/>
<path d="M510.1 140.0L514.3 140.0L512.2 136.3Z" fill="#fff" stroke="#00e600" stroke-width="0.65"/>
<path d="M522.5 140.6L526.7 140.6L524.6 136.8Z" fill="#fff" stroke="#00e600" stroke-width="0.65"/>
<path d="M534.9 144.1L539.1 144.1L537.0 140.3Z" fill="#fff" stroke="#00e600" stroke-width="0.65"/>
<path d="M547.3 145.6L551.5 145.6L549.4 141.8Z" fill="#fff" stroke="#00e600" stroke-width="0.65"/>
<path d="M559.7 146.1L563.9 146.1L561.8 142.3Z" fill="#fff" stroke="#00e600" stroke-width="0.65"/>
<path d="M572.2 147.1L576.4 147.1L574.3 143.3Z" fill="#fff" stroke="#00e600" stroke-width="0.65"/>
<path d="M584.6 147.8L588.8 147.8L586.7 144.0Z" fill="#fff" stroke="#00e600" stroke-width="0.65"/>
<path d="M597.0 149.4L601.2 149.4L599.1 145.6Z" fill="#fff" stroke="#00e600" stroke-width="0.65"/>
<path d="M609.4 150.9L613.6 150.9L611.5 147.1Z" fill="#fff" stroke="#00e600" stroke-width="0.65"/>
<path d="M621.8 151.9L626.0 151.9L623.9 148.1Z" fill="#fff" stroke="#00e600" stroke-width="0.65"/>
<path d="M348.6 20.5L352.8 20.5L350.7 24.3Z" fill="#fff" stroke="#0000ff" stroke-width="0.65"/>
<path d="M361.0 52.9L365.2 52.9L363.1 56.7Z" fill="#fff" stroke="#0000ff" stroke-width="0.65"/>
<path d="M373.4 66.9L377.6 66.9L375.5 70.7Z" fill="#fff" stroke="#0000ff" stroke-width="0.65"/>
<path d="M385.9 68.3L390.1 68.3L388.0 72.1Z" fill="#fff" stroke="#0000ff" stroke-width="0.65"/>
<path d="M398.3 64.7L402.5 64.7L400.4 68.5Z" fill="#fff" stroke="#0000ff" stroke-width="0.65"/>
<path d="M410.7 70.9L414.9 70.9L412.8 74.7Z" fill="#fff" stroke="#0000ff" stroke-width="0.65"/>
<path d="M423.1 77.6L427.3 77.6L425.2 81.4Z" fill="#fff" stroke="#0000ff" stroke-width="0.65"/>
<path d="M435.5 89.1L439.7 89.1L437.6 92.8Z" fill="#fff" stroke="#0000ff" stroke-width="0.65"/>
<path d="M448.0 97.0L452.2 97.0L450.1 100.7Z" fill="#fff" stroke="#0000ff" stroke-width="0.65"/>
<path d="M460.4 104.4L464.6 104.4L462.5 108.1Z" fill="#fff" stroke="#0000ff" stroke-width="0.65"/>
<path d="M472.8 107.6L477.0 107.6L474.9 111.4Z" fill="#fff" stroke="#0000ff" stroke-width="0.65"/>
<path d="M485.2 110.1L489.4 110.1L487.3 113.9Z" fill="#fff" stroke="#0000ff" stroke-width="0.65"/>
<path d="M497.6 113.4L501.8 113.4L499.7 117.2Z" fill="#fff" stroke="#0000ff" stroke-width="0.65"/>
<path d="M510.1 115.4L514.3 115.4L512.2 119.2Z" fill="#fff" stroke="#0000ff" stroke-width="0.65"/>
<path d="M522.5 116.3L526.7 116.3L524.6 120.1Z" fill="#fff" stroke="#0000ff" stroke-width="0.65"/>
<path d="M534.9 116.3L539.1 116.3L537.0 120.1Z" fill="#fff" stroke="#0000ff" stroke-width="0.65"/>
<path d="M547.3 117.4L551.5 117.4L549.4 121.2Z" fill="#fff" stroke="#0000ff" stroke-width="0.65"/>
<path d="M559.7 117.7L563.9 117.7L561.8 121.5Z" fill="#fff" stroke="#0000ff" stroke-width="0.65"/>
<path d="M572.2 119.9L576.4 119.9L574.3 123.7Z" fill="#fff" stroke="#0000ff" stroke-width="0.65"/>
<path d="M584.6 122.1L588.8 122.1L586.7 125.9Z" fill="#fff" stroke="#0000ff" stroke-width="0.65"/>
<path d="M597.0 122.5L601.2 122.5L599.1 126.3Z" fill="#fff" stroke="#0000ff" stroke-width="0.65"/>
<path d="M609.4 122.7L613.6 122.7L611.5 126.5Z" fill="#fff" stroke="#0000ff" stroke-width="0.65"/>
<path d="M621.8 124.5L626.0 124.5L623.9 128.3Z" fill="#fff" stroke="#0000ff" stroke-width="0.65"/>
<rect x="398.8" y="55.1" width="28.3" height="132.5" fill="none" stroke="#9250e8" stroke-width="1.5" stroke-dasharray="1.8 2.2"/>
<rect x="477.5" y="100.8" width="18.0" height="92.7" fill="none" stroke="#9250e8" stroke-width="1.5" stroke-dasharray="1.8 2.2"/>
<rect x="512.7" y="105.0" width="14.2" height="93.0" fill="none" stroke="#9250e8" stroke-width="1.5" stroke-dasharray="1.8 2.2"/>
<rect x="349.9" y="1.8" width="277.0" height="207.0" fill="none" stroke="#000" stroke-width="1.7"/>
<line x1="369.7" y1="208.8" x2="369.7" y2="206.3" stroke="#000" stroke-width="1.3"/>
<line x1="389.5" y1="208.8" x2="389.5" y2="204.8" stroke="#000" stroke-width="1.3"/>
<line x1="409.3" y1="208.8" x2="409.3" y2="206.3" stroke="#000" stroke-width="1.3"/>
<line x1="429.0" y1="208.8" x2="429.0" y2="204.8" stroke="#000" stroke-width="1.3"/>
<line x1="448.8" y1="208.8" x2="448.8" y2="206.3" stroke="#000" stroke-width="1.3"/>
<line x1="468.6" y1="208.8" x2="468.6" y2="204.8" stroke="#000" stroke-width="1.3"/>
<line x1="488.4" y1="208.8" x2="488.4" y2="206.3" stroke="#000" stroke-width="1.3"/>
<line x1="508.2" y1="208.8" x2="508.2" y2="204.8" stroke="#000" stroke-width="1.3"/>
<line x1="528.0" y1="208.8" x2="528.0" y2="206.3" stroke="#000" stroke-width="1.3"/>
<line x1="547.8" y1="208.8" x2="547.8" y2="204.8" stroke="#000" stroke-width="1.3"/>
<line x1="567.5" y1="208.8" x2="567.5" y2="206.3" stroke="#000" stroke-width="1.3"/>
<line x1="587.3" y1="208.8" x2="587.3" y2="204.8" stroke="#000" stroke-width="1.3"/>
<line x1="607.1" y1="208.8" x2="607.1" y2="206.3" stroke="#000" stroke-width="1.3"/>
<text x="349.9" y="221.6" text-anchor="middle" font-size="11" font-weight="bold">10</text>
<text x="389.5" y="221.6" text-anchor="middle" font-size="11" font-weight="bold">20</text>
<text x="429.0" y="221.6" text-anchor="middle" font-size="11" font-weight="bold">30</text>
<text x="468.6" y="221.6" text-anchor="middle" font-size="11" font-weight="bold">40</text>
<text x="508.2" y="221.6" text-anchor="middle" font-size="11" font-weight="bold">50</text>
<text x="547.8" y="221.6" text-anchor="middle" font-size="11" font-weight="bold">60</text>
<text x="587.3" y="221.6" text-anchor="middle" font-size="11" font-weight="bold">70</text>
<text x="626.9" y="221.6" text-anchor="middle" font-size="11" font-weight="bold">80</text>
<text transform="translate(401.8 56.6) rotate(-90)" font-size="11.0" font-weight="bold" textLength="25.3" lengthAdjust="spacingAndGlyphs">(100)</text>
<text transform="translate(409.0 30.5) rotate(-90)" font-size="11.0" font-weight="bold" textLength="26.2" lengthAdjust="spacingAndGlyphs">(002)</text>
<text transform="translate(423.0 60.8) rotate(-90)" font-size="11.0" font-weight="bold" textLength="25.5" lengthAdjust="spacingAndGlyphs">(101)</text>
<text transform="translate(487.1 94.8) rotate(-90)" font-size="11.0" font-weight="bold" textLength="25.8" lengthAdjust="spacingAndGlyphs">(110)</text>
<text transform="translate(518.8 98.4) rotate(-90)" font-size="11.0" font-weight="bold" textLength="26.2" lengthAdjust="spacingAndGlyphs">(112)</text>
<text x="525.9" y="20.0" font-size="11" font-weight="bold">Glass substrate</text>
<line x1="543.0" y1="33.0" x2="562.4" y2="33.0" stroke="#0000ff" stroke-width="1.5"/>
<path d="M550.2 30.8L555.2 30.8L552.7 35.2Z" fill="#fff" stroke="#0000ff" stroke-width="0.65"/>
<text x="566.0" y="36.6" font-size="11" font-weight="bold">CdS<tspan font-size="8.5" dy="3.9">N</tspan></text>
<line x1="543.0" y1="52.9" x2="562.4" y2="52.9" stroke="#00e600" stroke-width="1.5"/>
<path d="M550.2 55.1L555.2 55.1L552.7 50.6Z" fill="#fff" stroke="#00e600" stroke-width="0.65"/>
<text x="566.0" y="56.5" font-size="11" font-weight="bold">CdS<tspan font-size="8.5" dy="3.9">H</tspan></text>
<line x1="543.0" y1="73.2" x2="562.4" y2="73.2" stroke="#ff0000" stroke-width="1.5"/>
<circle cx="552.7" cy="73.2" r="2.5" fill="#fff" stroke="#ff0000" stroke-width="0.65"/>
<text x="566.0" y="76.8" font-size="11" font-weight="bold">CdS<tspan font-size="8.5" dy="3.9">P</tspan></text>
<line x1="543.0" y1="92.7" x2="562.4" y2="92.7" stroke="#000000" stroke-width="1.5"/>
<rect x="550.2" y="90.2" width="5.0" height="5.0" fill="#fff" stroke="#000000" stroke-width="0.65"/>
<text x="566.0" y="96.3" font-size="11" font-weight="bold">Glass</text>
<text x="322" y="15.7" font-size="20" stroke="#000" stroke-width="0.55">(b)</text>
<text transform="translate(340.1 162.7) rotate(-90)" font-size="12.6" font-weight="bold" textLength="96.5" lengthAdjust="spacingAndGlyphs">Intensity (a.u.)</text>
<text x="470.9" y="242.1" font-size="14.5" font-weight="bold">2</text>
<text x="478.8" y="242.1" font-size="14.5" stroke="#000" stroke-width="0.35">θ</text>
<text x="488.9" y="241.9" font-size="15.5">(</text>
<circle cx="496.5" cy="230.5" r="1.5" fill="none" stroke="#000" stroke-width="0.8"/>
<text x="497.5" y="241.9" font-size="15.5">)</text>
</svg></body></html>
